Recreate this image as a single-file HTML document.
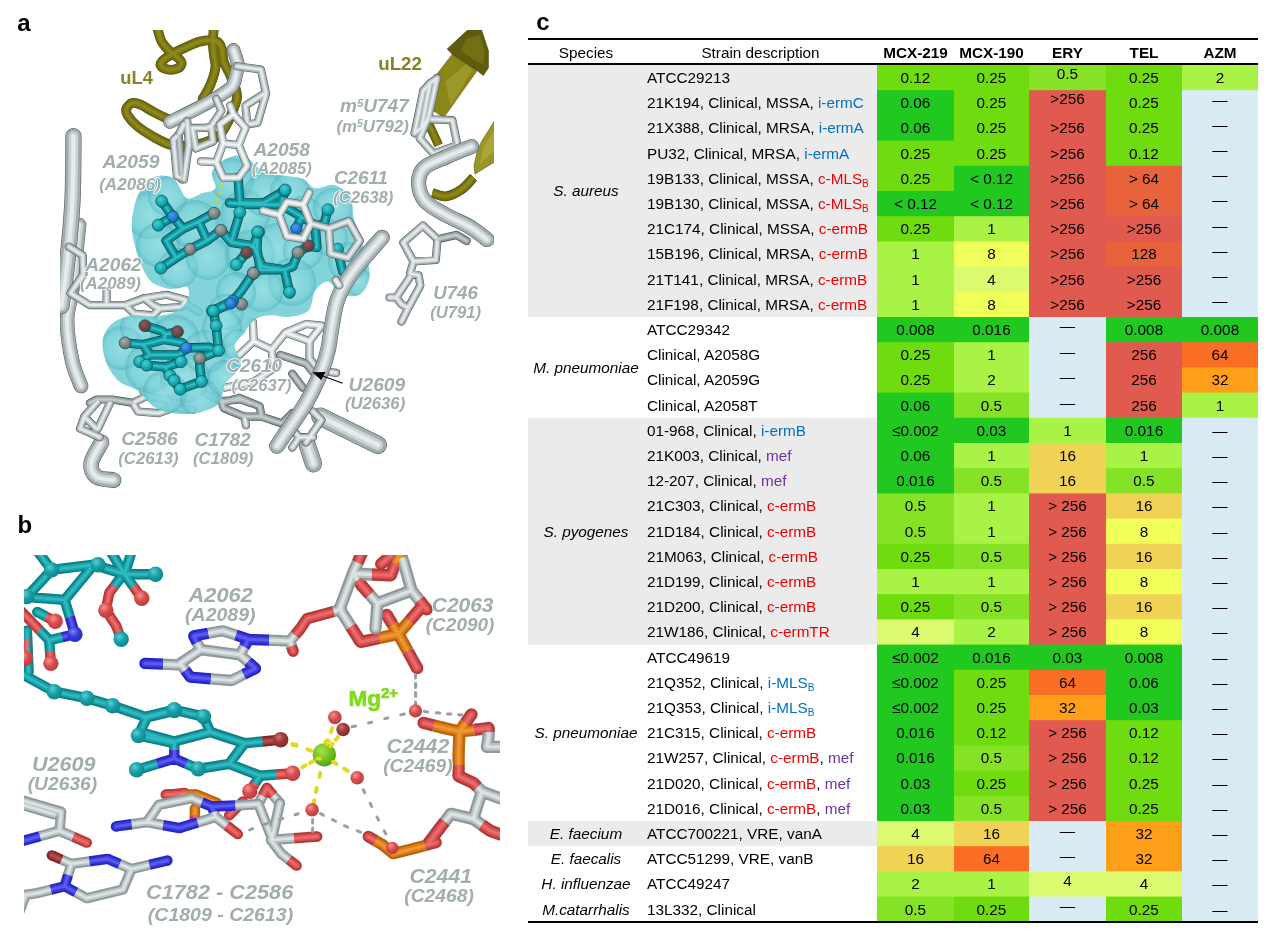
<!DOCTYPE html>
<html lang="en"><head><meta charset="utf-8"><title>Figure</title>
<style>
html,body{margin:0;padding:0;background:#fff;}
body{width:1268px;height:933px;overflow:hidden;position:relative;font-family:"Liberation Sans",Arial,sans-serif;}
.pl{position:absolute;font-weight:bold;font-size:24px;line-height:24px;color:#000;}
svg{position:absolute;left:0;top:0;}
svg text{font-family:"Liberation Sans",Arial,sans-serif;}

.tbl{position:absolute;left:0;top:0;width:1268px;height:933px;font-size:15.3px;color:#000;}
.tbl div{position:absolute;white-space:nowrap;}
.tbl svg{position:absolute;left:0;top:0;}
.gbg{left:528px;width:349px;background:#ebebeb;}
.rule{left:528px;width:730px;height:2px;background:#000;}
.hd{top:39.5px;height:24px;line-height:25px;text-align:center;}
.hb{font-weight:bold;}
.sp{left:528px;width:116px;height:25.2px;line-height:25.2px;text-align:center;font-style:italic;}
.ds{left:647px;height:25.2px;line-height:25.2px;}
.v{height:25.2px;line-height:25.2px;text-align:center;}
.bl{color:#0070c0;}.rd{color:#f00000;}.pu{color:#7030a0;}
.tbl sub{font-size:10px;vertical-align:baseline;position:relative;top:3px;line-height:0;}

</style></head><body>
<svg width="1268" height="933" viewBox="0 0 1268 933">
<defs><clipPath id="ca"><rect x="60" y="30" width="434" height="465"/></clipPath></defs>
<g clip-path="url(#ca)">
<path d="M213.8,28.4 C213.7,30.7 212.9,37.9 212.9,42.2 C212.9,46.5 213.4,50.2 213.8,54.2 C214.2,58.2 215.7,62.2 215.5,66.2 C215.3,70.2 214.2,74.2 212.9,78.2 C211.6,82.2 209.5,86.8 207.8,90.2 C206.1,93.6 203.5,97.4 202.6,98.8 M222.3,50.7 C222.6,52.7 222.8,58.7 224.1,62.7 C225.4,66.7 228.1,70.1 230.1,74.7 C232.1,79.3 235,86.2 236.1,90.2 C237.2,94.2 237.3,95.7 236.9,98.8 C236.5,101.9 234.9,105.3 233.5,109 C232.1,112.7 230.7,116.8 228.4,121.1 C226.1,125.4 223.5,131.3 219.8,134.8 C216.1,138.3 210.7,140.3 206.1,142 C201.5,143.7 198,144.6 192.3,145.1 C186.6,145.6 178.3,146.5 171.7,145.1 C165.1,143.7 158.6,139.7 152.9,136.5 C147.2,133.3 141.6,129.6 137.4,126.2 C133.2,122.8 129.8,118.8 128,115.9 C126.2,113 125.6,111.2 126.3,109 C127,106.8 129.9,103.7 132.3,103 C134.7,102.3 137.2,103.2 140.9,104.8 C144.6,106.4 150,110.1 154.6,112.5 C159.2,114.9 166,118.2 168.3,119.3 M157.2,27.6 C157.9,29.9 159.5,37.4 161.5,41.3 C163.5,45.1 166.3,47.9 169.2,50.7 C172,53.6 176.5,56.2 178.6,58.4 C180.7,60.5 182,61.9 181.7,63.6 C181.4,65.3 179.4,67.8 176.9,68.7 C174.4,69.7 169.3,69.9 166.6,69.3 C163.9,68.7 161.3,66.7 160.6,65.3 C159.9,63.9 160.5,62.9 162.3,61 C164.2,59.1 168.1,56.3 171.7,54.2 C175.3,52.1 179.2,50.3 183.8,48.2 C188.4,46.1 194.6,43.1 199.2,41.8 C203.8,40.4 207.9,39.9 211.2,40.1 C214.5,40.3 217.1,41.2 218.9,43 C220.8,44.8 221.7,49.4 222.3,50.7" fill="none" stroke="#4d4a08" stroke-width="9.8" stroke-linecap="round" stroke-linejoin="round"/>
<path d="M432.3,192.9 C434.6,193.5 441.2,196.9 446.1,196.3 C451,195.7 456.9,192.7 461.5,189.5 C466.1,186.3 471.5,179.4 473.5,177.4" fill="none" stroke="#4d4a08" stroke-width="9.8" stroke-linecap="butt" stroke-linejoin="round"/>
<path d="M427.5,121.1 L438.6,145.1" fill="none" stroke="#4d4a08" stroke-width="9" stroke-linecap="butt" stroke-linejoin="round"/>
<path d="M213.8,28.4 C213.7,30.7 212.9,37.9 212.9,42.2 C212.9,46.5 213.4,50.2 213.8,54.2 C214.2,58.2 215.7,62.2 215.5,66.2 C215.3,70.2 214.2,74.2 212.9,78.2 C211.6,82.2 209.5,86.8 207.8,90.2 C206.1,93.6 203.5,97.4 202.6,98.8 M222.3,50.7 C222.6,52.7 222.8,58.7 224.1,62.7 C225.4,66.7 228.1,70.1 230.1,74.7 C232.1,79.3 235,86.2 236.1,90.2 C237.2,94.2 237.3,95.7 236.9,98.8 C236.5,101.9 234.9,105.3 233.5,109 C232.1,112.7 230.7,116.8 228.4,121.1 C226.1,125.4 223.5,131.3 219.8,134.8 C216.1,138.3 210.7,140.3 206.1,142 C201.5,143.7 198,144.6 192.3,145.1 C186.6,145.6 178.3,146.5 171.7,145.1 C165.1,143.7 158.6,139.7 152.9,136.5 C147.2,133.3 141.6,129.6 137.4,126.2 C133.2,122.8 129.8,118.8 128,115.9 C126.2,113 125.6,111.2 126.3,109 C127,106.8 129.9,103.7 132.3,103 C134.7,102.3 137.2,103.2 140.9,104.8 C144.6,106.4 150,110.1 154.6,112.5 C159.2,114.9 166,118.2 168.3,119.3 M157.2,27.6 C157.9,29.9 159.5,37.4 161.5,41.3 C163.5,45.1 166.3,47.9 169.2,50.7 C172,53.6 176.5,56.2 178.6,58.4 C180.7,60.5 182,61.9 181.7,63.6 C181.4,65.3 179.4,67.8 176.9,68.7 C174.4,69.7 169.3,69.9 166.6,69.3 C163.9,68.7 161.3,66.7 160.6,65.3 C159.9,63.9 160.5,62.9 162.3,61 C164.2,59.1 168.1,56.3 171.7,54.2 C175.3,52.1 179.2,50.3 183.8,48.2 C188.4,46.1 194.6,43.1 199.2,41.8 C203.8,40.4 207.9,39.9 211.2,40.1 C214.5,40.3 217.1,41.2 218.9,43 C220.8,44.8 221.7,49.4 222.3,50.7" fill="none" stroke="#6f6c0f" stroke-width="8.8" stroke-linecap="round" stroke-linejoin="round"/>
<path d="M432.3,192.9 C434.6,193.5 441.2,196.9 446.1,196.3 C451,195.7 456.9,192.7 461.5,189.5 C466.1,186.3 471.5,179.4 473.5,177.4" fill="none" stroke="#6f6c0f" stroke-width="8.8" stroke-linecap="butt" stroke-linejoin="round"/>
<path d="M427.5,121.1 L438.6,145.1" fill="none" stroke="#6f6c0f" stroke-width="8" stroke-linecap="butt" stroke-linejoin="round"/>
<path d="M213.8,28.4 C213.7,30.7 212.9,37.9 212.9,42.2 C212.9,46.5 213.4,50.2 213.8,54.2 C214.2,58.2 215.7,62.2 215.5,66.2 C215.3,70.2 214.2,74.2 212.9,78.2 C211.6,82.2 209.5,86.8 207.8,90.2 C206.1,93.6 203.5,97.4 202.6,98.8 M222.3,50.7 C222.6,52.7 222.8,58.7 224.1,62.7 C225.4,66.7 228.1,70.1 230.1,74.7 C232.1,79.3 235,86.2 236.1,90.2 C237.2,94.2 237.3,95.7 236.9,98.8 C236.5,101.9 234.9,105.3 233.5,109 C232.1,112.7 230.7,116.8 228.4,121.1 C226.1,125.4 223.5,131.3 219.8,134.8 C216.1,138.3 210.7,140.3 206.1,142 C201.5,143.7 198,144.6 192.3,145.1 C186.6,145.6 178.3,146.5 171.7,145.1 C165.1,143.7 158.6,139.7 152.9,136.5 C147.2,133.3 141.6,129.6 137.4,126.2 C133.2,122.8 129.8,118.8 128,115.9 C126.2,113 125.6,111.2 126.3,109 C127,106.8 129.9,103.7 132.3,103 C134.7,102.3 137.2,103.2 140.9,104.8 C144.6,106.4 150,110.1 154.6,112.5 C159.2,114.9 166,118.2 168.3,119.3 M157.2,27.6 C157.9,29.9 159.5,37.4 161.5,41.3 C163.5,45.1 166.3,47.9 169.2,50.7 C172,53.6 176.5,56.2 178.6,58.4 C180.7,60.5 182,61.9 181.7,63.6 C181.4,65.3 179.4,67.8 176.9,68.7 C174.4,69.7 169.3,69.9 166.6,69.3 C163.9,68.7 161.3,66.7 160.6,65.3 C159.9,63.9 160.5,62.9 162.3,61 C164.2,59.1 168.1,56.3 171.7,54.2 C175.3,52.1 179.2,50.3 183.8,48.2 C188.4,46.1 194.6,43.1 199.2,41.8 C203.8,40.4 207.9,39.9 211.2,40.1 C214.5,40.3 217.1,41.2 218.9,43 C220.8,44.8 221.7,49.4 222.3,50.7" fill="none" stroke="#7f7b14" stroke-width="5.46" stroke-linecap="round" stroke-linejoin="round"/>
<path d="M432.3,192.9 C434.6,193.5 441.2,196.9 446.1,196.3 C451,195.7 456.9,192.7 461.5,189.5 C466.1,186.3 471.5,179.4 473.5,177.4" fill="none" stroke="#7f7b14" stroke-width="5.46" stroke-linecap="butt" stroke-linejoin="round"/>
<path d="M427.5,121.1 L438.6,145.1" fill="none" stroke="#7f7b14" stroke-width="4.96" stroke-linecap="butt" stroke-linejoin="round"/>
<path d="M213.8,28.4 C213.7,30.7 212.9,37.9 212.9,42.2 C212.9,46.5 213.4,50.2 213.8,54.2 C214.2,58.2 215.7,62.2 215.5,66.2 C215.3,70.2 214.2,74.2 212.9,78.2 C211.6,82.2 209.5,86.8 207.8,90.2 C206.1,93.6 203.5,97.4 202.6,98.8 M222.3,50.7 C222.6,52.7 222.8,58.7 224.1,62.7 C225.4,66.7 228.1,70.1 230.1,74.7 C232.1,79.3 235,86.2 236.1,90.2 C237.2,94.2 237.3,95.7 236.9,98.8 C236.5,101.9 234.9,105.3 233.5,109 C232.1,112.7 230.7,116.8 228.4,121.1 C226.1,125.4 223.5,131.3 219.8,134.8 C216.1,138.3 210.7,140.3 206.1,142 C201.5,143.7 198,144.6 192.3,145.1 C186.6,145.6 178.3,146.5 171.7,145.1 C165.1,143.7 158.6,139.7 152.9,136.5 C147.2,133.3 141.6,129.6 137.4,126.2 C133.2,122.8 129.8,118.8 128,115.9 C126.2,113 125.6,111.2 126.3,109 C127,106.8 129.9,103.7 132.3,103 C134.7,102.3 137.2,103.2 140.9,104.8 C144.6,106.4 150,110.1 154.6,112.5 C159.2,114.9 166,118.2 168.3,119.3 M157.2,27.6 C157.9,29.9 159.5,37.4 161.5,41.3 C163.5,45.1 166.3,47.9 169.2,50.7 C172,53.6 176.5,56.2 178.6,58.4 C180.7,60.5 182,61.9 181.7,63.6 C181.4,65.3 179.4,67.8 176.9,68.7 C174.4,69.7 169.3,69.9 166.6,69.3 C163.9,68.7 161.3,66.7 160.6,65.3 C159.9,63.9 160.5,62.9 162.3,61 C164.2,59.1 168.1,56.3 171.7,54.2 C175.3,52.1 179.2,50.3 183.8,48.2 C188.4,46.1 194.6,43.1 199.2,41.8 C203.8,40.4 207.9,39.9 211.2,40.1 C214.5,40.3 217.1,41.2 218.9,43 C220.8,44.8 221.7,49.4 222.3,50.7" fill="none" stroke="#8d891d" stroke-width="2.46" stroke-linecap="round" stroke-linejoin="round"/>
<path d="M432.3,192.9 C434.6,193.5 441.2,196.9 446.1,196.3 C451,195.7 456.9,192.7 461.5,189.5 C466.1,186.3 471.5,179.4 473.5,177.4" fill="none" stroke="#8d891d" stroke-width="2.46" stroke-linecap="butt" stroke-linejoin="round"/>
<path d="M427.5,121.1 L438.6,145.1" fill="none" stroke="#8d891d" stroke-width="2.24" stroke-linecap="butt" stroke-linejoin="round"/>
<path d="M452.3,54.2 L477.2,70.5 L443.8,117.6 L433.5,110.8 L435.2,76.5Z" fill="#8a8618" stroke="#5a570c" stroke-width="0.6" stroke-linejoin="round"/>
<path d="M445.5,81.6 L466.1,64.5 L472.9,69.6 L450.6,105.6Z" fill="#9c9828"/>
<path d="M467.8,29.8 L481.5,29.8 L488.4,50.7 L488.4,67.9 L483.2,75.6 L477.2,70.5 L452.3,54.2 L447.2,49Z" fill="#5f5c0d" stroke="#403e06" stroke-width="0.6" stroke-linejoin="round"/>
<path d="M466.1,38.7 L479.8,35.3 L484.9,50.7 L483.2,64.5 L472.9,59.3 L460.9,50.7Z" fill="#726f14"/>
<path d="M481.5,141.6 L494.5,121 L494.5,162 L475,174 L474,166 L477,152Z" fill="#9a9626" stroke="#5a570c" stroke-width="0.6" stroke-linejoin="round"/>
<path d="M484,146 L494.5,130 L494.5,150 L480,164Z" fill="#aaa636"/>
<path d="M79,225 C77.8,235.8 74,274.2 72,290 C70,305.8 67,308.3 67,320 C67,331.7 69.7,349 72,360 C74.3,371 79.5,381.7 81,386" fill="none" stroke="#565d5f" stroke-width="14.7" stroke-linecap="round" stroke-linejoin="round"/>
<path d="M79,225 C77.8,235.8 74,274.2 72,290 C70,305.8 67,308.3 67,320 C67,331.7 69.7,349 72,360 C74.3,371 79.5,381.7 81,386" fill="none" stroke="#a3adaf" stroke-width="13.5" stroke-linecap="round" stroke-linejoin="round"/>
<path d="M79,225 C77.8,235.8 74,274.2 72,290 C70,305.8 67,308.3 67,320 C67,331.7 69.7,349 72,360 C74.3,371 79.5,381.7 81,386" fill="none" stroke="#c9d2d4" stroke-width="8.37" stroke-linecap="round" stroke-linejoin="round"/>
<path d="M79,225 C77.8,235.8 74,274.2 72,290 C70,305.8 67,308.3 67,320 C67,331.7 69.7,349 72,360 C74.3,371 79.5,381.7 81,386" fill="none" stroke="#e6ebec" stroke-width="3.78" stroke-linecap="round" stroke-linejoin="round"/>
<path d="M73.5,136 C73.3,146.7 73.5,179.3 72.5,200 C71.5,220.7 69.3,242.3 67.5,260 C65.7,277.7 62.5,298.3 61.5,306" fill="none" stroke="#565d5f" stroke-width="16.2" stroke-linecap="round" stroke-linejoin="round"/>
<path d="M73.5,136 C73.3,146.7 73.5,179.3 72.5,200 C71.5,220.7 69.3,242.3 67.5,260 C65.7,277.7 62.5,298.3 61.5,306" fill="none" stroke="#a3adaf" stroke-width="15" stroke-linecap="round" stroke-linejoin="round"/>
<path d="M73.5,136 C73.3,146.7 73.5,179.3 72.5,200 C71.5,220.7 69.3,242.3 67.5,260 C65.7,277.7 62.5,298.3 61.5,306" fill="none" stroke="#c9d2d4" stroke-width="9.3" stroke-linecap="round" stroke-linejoin="round"/>
<path d="M73.5,136 C73.3,146.7 73.5,179.3 72.5,200 C71.5,220.7 69.3,242.3 67.5,260 C65.7,277.7 62.5,298.3 61.5,306" fill="none" stroke="#e6ebec" stroke-width="4.2" stroke-linecap="round" stroke-linejoin="round"/>
<path d="M170,121.9 C175.4,119.2 192.6,111.2 202.6,105.6 C212.6,100 224.5,93.7 230.1,88.5 C235.7,83.3 234.8,78.7 236.1,74.7 C237.4,70.7 238.2,68.6 237.8,64.5 C237.4,60.4 234.2,52.3 233.5,49.9" fill="none" stroke="#565d5f" stroke-width="13.7" stroke-linecap="round" stroke-linejoin="round"/>
<path d="M170,121.9 C175.4,119.2 192.6,111.2 202.6,105.6 C212.6,100 224.5,93.7 230.1,88.5 C235.7,83.3 234.8,78.7 236.1,74.7 C237.4,70.7 238.2,68.6 237.8,64.5 C237.4,60.4 234.2,52.3 233.5,49.9" fill="none" stroke="#a3adaf" stroke-width="12.5" stroke-linecap="round" stroke-linejoin="round"/>
<path d="M170,121.9 C175.4,119.2 192.6,111.2 202.6,105.6 C212.6,100 224.5,93.7 230.1,88.5 C235.7,83.3 234.8,78.7 236.1,74.7 C237.4,70.7 238.2,68.6 237.8,64.5 C237.4,60.4 234.2,52.3 233.5,49.9" fill="none" stroke="#c9d2d4" stroke-width="7.75" stroke-linecap="round" stroke-linejoin="round"/>
<path d="M170,121.9 C175.4,119.2 192.6,111.2 202.6,105.6 C212.6,100 224.5,93.7 230.1,88.5 C235.7,83.3 234.8,78.7 236.1,74.7 C237.4,70.7 238.2,68.6 237.8,64.5 C237.4,60.4 234.2,52.3 233.5,49.9" fill="none" stroke="#e6ebec" stroke-width="3.5" stroke-linecap="round" stroke-linejoin="round"/>
<path d="M307.5,445.8 L313.5,463.8" fill="none" stroke="#565d5f" stroke-width="17.2" stroke-linecap="round" stroke-linejoin="round"/>
<path d="M307.5,445.8 L313.5,463.8" fill="none" stroke="#a3adaf" stroke-width="16" stroke-linecap="round" stroke-linejoin="round"/>
<path d="M307.5,445.8 L313.5,463.8" fill="none" stroke="#c9d2d4" stroke-width="9.92" stroke-linecap="round" stroke-linejoin="round"/>
<path d="M307.5,445.8 L313.5,463.8" fill="none" stroke="#e6ebec" stroke-width="4.48" stroke-linecap="round" stroke-linejoin="round"/>
<path d="M320.3,416.6 L377.8,444.9" fill="none" stroke="#565d5f" stroke-width="18.2" stroke-linecap="round" stroke-linejoin="round"/>
<path d="M320.3,416.6 L377.8,444.9" fill="none" stroke="#a3adaf" stroke-width="17" stroke-linecap="round" stroke-linejoin="round"/>
<path d="M320.3,416.6 L377.8,444.9" fill="none" stroke="#c9d2d4" stroke-width="10.54" stroke-linecap="round" stroke-linejoin="round"/>
<path d="M320.3,416.6 L377.8,444.9" fill="none" stroke="#e6ebec" stroke-width="4.76" stroke-linecap="round" stroke-linejoin="round"/>
<path d="M101.5,442.3 C99.8,445.7 92.1,457.2 91.2,462.9 C90.3,468.6 92.6,473.7 96.3,476.6 C100,479.5 110.6,479.5 113.5,480.1" fill="none" stroke="#565d5f" stroke-width="15.7" stroke-linecap="round" stroke-linejoin="round"/>
<path d="M101.5,442.3 C99.8,445.7 92.1,457.2 91.2,462.9 C90.3,468.6 92.6,473.7 96.3,476.6 C100,479.5 110.6,479.5 113.5,480.1" fill="none" stroke="#a3adaf" stroke-width="14.5" stroke-linecap="round" stroke-linejoin="round"/>
<path d="M101.5,442.3 C99.8,445.7 92.1,457.2 91.2,462.9 C90.3,468.6 92.6,473.7 96.3,476.6 C100,479.5 110.6,479.5 113.5,480.1" fill="none" stroke="#c9d2d4" stroke-width="8.99" stroke-linecap="round" stroke-linejoin="round"/>
<path d="M101.5,442.3 C99.8,445.7 92.1,457.2 91.2,462.9 C90.3,468.6 92.6,473.7 96.3,476.6 C100,479.5 110.6,479.5 113.5,480.1" fill="none" stroke="#e6ebec" stroke-width="4.06" stroke-linecap="round" stroke-linejoin="round"/>
<path d="M236.9,66.2 L260.9,69.6 L266.1,93.6 L257.5,122.8 L247.2,124.5 L245.5,105.6 L264.4,93.6 M216.3,98.8 L221.5,110.8 L211.2,126.2 L212.9,141.6 L195.8,148.5 L192.3,127.9 L206.1,127.9 L211.2,126.2 M187.2,121.1 L188.9,145.1 L183.8,179.4 L176.9,175.9 L173.5,139.9 L178.6,134.8 L183.8,124.5 M436.9,78.2 L428.3,117.6 M430,83.3 L421.5,127.9 M423.2,91 L414.6,133.1 M423.2,91 L430,83.3 L436.9,78.2 M414.6,133.1 L421.5,127.9 L428.3,117.6 M431.7,119.3 L452.3,120.2 L457.5,145.1 L433.5,153.6 L419.7,138.2 L428.3,117.6 M68.9,246.7 L82.6,255.3 L83.4,274.2 L70.6,293.1 L89.5,305.1 L106.6,305.1 L125.5,305.1 M106.6,291.3 L106.6,305.1 M125.5,305.1 L144.3,298.2 L166.6,294.8 L185.5,299.9 L182.1,306.8 L159.8,308.5 L152.9,315.4 L134,313.6Z M144.3,298.2 L152.9,305.1 L159.8,308.5 M185.5,303.4 L199.2,311.9 M422.9,225.5 L437.5,239.2 L435.8,259.8 L413.5,261.5 L403.2,242.6Z M413.5,261.5 L410,273.5 M410,273.5 L418.6,275.2 L420.3,285.5 L408.3,307.8 L401.5,321.5 M410,276.9 L396.3,297.5 L389.5,297.5 M396.3,297.5 L401.5,304.4 L408.3,307.8 M132.9,402.9 L146.6,396.1 L167.2,399.5 L172.3,408.1 L158.6,413.2 L138,411.5Z M146.6,396.1 L143.2,390.9 M172.3,407.2 L192.9,409.8 M98,401.2 L84.3,416.6 L80,428.6 L99.7,437.2 M110,402.9 L98,428.6 M84.3,416.6 L96.3,428.6 M309.5,341.2 L309.5,358.3 L319.8,372 M244.3,416.6 L246,425.2 M287.2,423.5 L299.2,437.2 L292.3,447.5 M312.9,411.5 L321.5,420.1 L306.1,442.4 M299.2,437.2 L312.9,437.2 M330.1,372 L336.1,372.9" fill="none" stroke="#565d5f" stroke-width="8.2" stroke-linecap="round" stroke-linejoin="round"/>
<path d="M178.6,134.8 L182,179.4 M437.5,239.2 L456.3,234.9 L466.6,240.9 M90,402.9 L96.9,399.5 L112.3,399.5 L132.9,402.9 M204.9,393.5 L222.1,401.2 L240.9,399.5 L250,402.9 M280.3,354.9 L306.1,363.5 L312.9,372 M292.3,373.8 L302.6,387.5 M222,402.9 L239.2,397.8 L259.7,406.3 L261.5,416.6 L244.3,416.6 L223.7,408.1Z M261.5,416.6 L282,423.5 L292.3,413.2" fill="none" stroke="#4f5557" stroke-width="8.2" stroke-linecap="round" stroke-linejoin="round"/>
<path d="M252.9,322.3 L253.7,341.2 L271.7,349.7 L285.5,332.6 M285.5,332.6 L306.1,324 L321.5,325.7 L309.5,341.2Z M253.7,341.2 L239.2,354.9 M271.7,349.7 L273.5,368.6 L252.9,382.3 L225.4,387.5" fill="none" stroke="#5a6163" stroke-width="8.2" stroke-linecap="round" stroke-linejoin="round"/>
<path d="M236.9,66.2 L260.9,69.6 L266.1,93.6 L257.5,122.8 L247.2,124.5 L245.5,105.6 L264.4,93.6 M216.3,98.8 L221.5,110.8 L211.2,126.2 L212.9,141.6 L195.8,148.5 L192.3,127.9 L206.1,127.9 L211.2,126.2 M187.2,121.1 L188.9,145.1 L183.8,179.4 L176.9,175.9 L173.5,139.9 L178.6,134.8 L183.8,124.5 M436.9,78.2 L428.3,117.6 M430,83.3 L421.5,127.9 M423.2,91 L414.6,133.1 M423.2,91 L430,83.3 L436.9,78.2 M414.6,133.1 L421.5,127.9 L428.3,117.6 M431.7,119.3 L452.3,120.2 L457.5,145.1 L433.5,153.6 L419.7,138.2 L428.3,117.6 M68.9,246.7 L82.6,255.3 L83.4,274.2 L70.6,293.1 L89.5,305.1 L106.6,305.1 L125.5,305.1 M106.6,291.3 L106.6,305.1 M125.5,305.1 L144.3,298.2 L166.6,294.8 L185.5,299.9 L182.1,306.8 L159.8,308.5 L152.9,315.4 L134,313.6Z M144.3,298.2 L152.9,305.1 L159.8,308.5 M185.5,303.4 L199.2,311.9 M422.9,225.5 L437.5,239.2 L435.8,259.8 L413.5,261.5 L403.2,242.6Z M413.5,261.5 L410,273.5 M410,273.5 L418.6,275.2 L420.3,285.5 L408.3,307.8 L401.5,321.5 M410,276.9 L396.3,297.5 L389.5,297.5 M396.3,297.5 L401.5,304.4 L408.3,307.8 M132.9,402.9 L146.6,396.1 L167.2,399.5 L172.3,408.1 L158.6,413.2 L138,411.5Z M146.6,396.1 L143.2,390.9 M172.3,407.2 L192.9,409.8 M98,401.2 L84.3,416.6 L80,428.6 L99.7,437.2 M110,402.9 L98,428.6 M84.3,416.6 L96.3,428.6 M309.5,341.2 L309.5,358.3 L319.8,372 M244.3,416.6 L246,425.2 M287.2,423.5 L299.2,437.2 L292.3,447.5 M312.9,411.5 L321.5,420.1 L306.1,442.4 M299.2,437.2 L312.9,437.2 M330.1,372 L336.1,372.9" fill="none" stroke="#a3adaf" stroke-width="7" stroke-linecap="round" stroke-linejoin="round"/>
<path d="M178.6,134.8 L182,179.4 M437.5,239.2 L456.3,234.9 L466.6,240.9 M90,402.9 L96.9,399.5 L112.3,399.5 L132.9,402.9 M204.9,393.5 L222.1,401.2 L240.9,399.5 L250,402.9 M280.3,354.9 L306.1,363.5 L312.9,372 M292.3,373.8 L302.6,387.5 M222,402.9 L239.2,397.8 L259.7,406.3 L261.5,416.6 L244.3,416.6 L223.7,408.1Z M261.5,416.6 L282,423.5 L292.3,413.2" fill="none" stroke="#8b9496" stroke-width="7" stroke-linecap="round" stroke-linejoin="round"/>
<path d="M252.9,322.3 L253.7,341.2 L271.7,349.7 L285.5,332.6 M285.5,332.6 L306.1,324 L321.5,325.7 L309.5,341.2Z M253.7,341.2 L239.2,354.9 M271.7,349.7 L273.5,368.6 L252.9,382.3 L225.4,387.5" fill="none" stroke="#b2bcbe" stroke-width="7" stroke-linecap="round" stroke-linejoin="round"/>
<path d="M236.9,66.2 L260.9,69.6 L266.1,93.6 L257.5,122.8 L247.2,124.5 L245.5,105.6 L264.4,93.6 M216.3,98.8 L221.5,110.8 L211.2,126.2 L212.9,141.6 L195.8,148.5 L192.3,127.9 L206.1,127.9 L211.2,126.2 M187.2,121.1 L188.9,145.1 L183.8,179.4 L176.9,175.9 L173.5,139.9 L178.6,134.8 L183.8,124.5 M436.9,78.2 L428.3,117.6 M430,83.3 L421.5,127.9 M423.2,91 L414.6,133.1 M423.2,91 L430,83.3 L436.9,78.2 M414.6,133.1 L421.5,127.9 L428.3,117.6 M431.7,119.3 L452.3,120.2 L457.5,145.1 L433.5,153.6 L419.7,138.2 L428.3,117.6 M68.9,246.7 L82.6,255.3 L83.4,274.2 L70.6,293.1 L89.5,305.1 L106.6,305.1 L125.5,305.1 M106.6,291.3 L106.6,305.1 M125.5,305.1 L144.3,298.2 L166.6,294.8 L185.5,299.9 L182.1,306.8 L159.8,308.5 L152.9,315.4 L134,313.6Z M144.3,298.2 L152.9,305.1 L159.8,308.5 M185.5,303.4 L199.2,311.9 M422.9,225.5 L437.5,239.2 L435.8,259.8 L413.5,261.5 L403.2,242.6Z M413.5,261.5 L410,273.5 M410,273.5 L418.6,275.2 L420.3,285.5 L408.3,307.8 L401.5,321.5 M410,276.9 L396.3,297.5 L389.5,297.5 M396.3,297.5 L401.5,304.4 L408.3,307.8 M132.9,402.9 L146.6,396.1 L167.2,399.5 L172.3,408.1 L158.6,413.2 L138,411.5Z M146.6,396.1 L143.2,390.9 M172.3,407.2 L192.9,409.8 M98,401.2 L84.3,416.6 L80,428.6 L99.7,437.2 M110,402.9 L98,428.6 M84.3,416.6 L96.3,428.6 M309.5,341.2 L309.5,358.3 L319.8,372 M244.3,416.6 L246,425.2 M287.2,423.5 L299.2,437.2 L292.3,447.5 M312.9,411.5 L321.5,420.1 L306.1,442.4 M299.2,437.2 L312.9,437.2 M330.1,372 L336.1,372.9" fill="none" stroke="#c9d2d4" stroke-width="4.34" stroke-linecap="round" stroke-linejoin="round"/>
<path d="M178.6,134.8 L182,179.4 M437.5,239.2 L456.3,234.9 L466.6,240.9 M90,402.9 L96.9,399.5 L112.3,399.5 L132.9,402.9 M204.9,393.5 L222.1,401.2 L240.9,399.5 L250,402.9 M280.3,354.9 L306.1,363.5 L312.9,372 M292.3,373.8 L302.6,387.5 M222,402.9 L239.2,397.8 L259.7,406.3 L261.5,416.6 L244.3,416.6 L223.7,408.1Z M261.5,416.6 L282,423.5 L292.3,413.2" fill="none" stroke="#aab3b5" stroke-width="4.34" stroke-linecap="round" stroke-linejoin="round"/>
<path d="M252.9,322.3 L253.7,341.2 L271.7,349.7 L285.5,332.6 M285.5,332.6 L306.1,324 L321.5,325.7 L309.5,341.2Z M253.7,341.2 L239.2,354.9 M271.7,349.7 L273.5,368.6 L252.9,382.3 L225.4,387.5" fill="none" stroke="#d9e0e1" stroke-width="4.34" stroke-linecap="round" stroke-linejoin="round"/>
<path d="M236.9,66.2 L260.9,69.6 L266.1,93.6 L257.5,122.8 L247.2,124.5 L245.5,105.6 L264.4,93.6 M216.3,98.8 L221.5,110.8 L211.2,126.2 L212.9,141.6 L195.8,148.5 L192.3,127.9 L206.1,127.9 L211.2,126.2 M187.2,121.1 L188.9,145.1 L183.8,179.4 L176.9,175.9 L173.5,139.9 L178.6,134.8 L183.8,124.5 M436.9,78.2 L428.3,117.6 M430,83.3 L421.5,127.9 M423.2,91 L414.6,133.1 M423.2,91 L430,83.3 L436.9,78.2 M414.6,133.1 L421.5,127.9 L428.3,117.6 M431.7,119.3 L452.3,120.2 L457.5,145.1 L433.5,153.6 L419.7,138.2 L428.3,117.6 M68.9,246.7 L82.6,255.3 L83.4,274.2 L70.6,293.1 L89.5,305.1 L106.6,305.1 L125.5,305.1 M106.6,291.3 L106.6,305.1 M125.5,305.1 L144.3,298.2 L166.6,294.8 L185.5,299.9 L182.1,306.8 L159.8,308.5 L152.9,315.4 L134,313.6Z M144.3,298.2 L152.9,305.1 L159.8,308.5 M185.5,303.4 L199.2,311.9 M422.9,225.5 L437.5,239.2 L435.8,259.8 L413.5,261.5 L403.2,242.6Z M413.5,261.5 L410,273.5 M410,273.5 L418.6,275.2 L420.3,285.5 L408.3,307.8 L401.5,321.5 M410,276.9 L396.3,297.5 L389.5,297.5 M396.3,297.5 L401.5,304.4 L408.3,307.8 M132.9,402.9 L146.6,396.1 L167.2,399.5 L172.3,408.1 L158.6,413.2 L138,411.5Z M146.6,396.1 L143.2,390.9 M172.3,407.2 L192.9,409.8 M98,401.2 L84.3,416.6 L80,428.6 L99.7,437.2 M110,402.9 L98,428.6 M84.3,416.6 L96.3,428.6 M309.5,341.2 L309.5,358.3 L319.8,372 M244.3,416.6 L246,425.2 M287.2,423.5 L299.2,437.2 L292.3,447.5 M312.9,411.5 L321.5,420.1 L306.1,442.4 M299.2,437.2 L312.9,437.2 M330.1,372 L336.1,372.9" fill="none" stroke="#e6ebec" stroke-width="1.96" stroke-linecap="round" stroke-linejoin="round"/>
<path d="M178.6,134.8 L182,179.4 M437.5,239.2 L456.3,234.9 L466.6,240.9 M90,402.9 L96.9,399.5 L112.3,399.5 L132.9,402.9 M204.9,393.5 L222.1,401.2 L240.9,399.5 L250,402.9 M280.3,354.9 L306.1,363.5 L312.9,372 M292.3,373.8 L302.6,387.5 M222,402.9 L239.2,397.8 L259.7,406.3 L261.5,416.6 L244.3,416.6 L223.7,408.1Z M261.5,416.6 L282,423.5 L292.3,413.2" fill="none" stroke="#c3cbcc" stroke-width="1.96" stroke-linecap="round" stroke-linejoin="round"/>
<path d="M252.9,322.3 L253.7,341.2 L271.7,349.7 L285.5,332.6 M285.5,332.6 L306.1,324 L321.5,325.7 L309.5,341.2Z M253.7,341.2 L239.2,354.9 M271.7,349.7 L273.5,368.6 L252.9,382.3 L225.4,387.5" fill="none" stroke="#f2f5f5" stroke-width="1.96" stroke-linecap="round" stroke-linejoin="round"/>
<defs><clipPath id="cb"><path d="M138.2,194.7 C141.9,186.9 148.4,179.7 154.3,177 C160.2,174.3 168.2,175.1 173.6,178.6 C179,182.1 181.7,195.5 186.5,197.9 C191.3,200.3 197.7,194.7 202.5,193.1 C207.3,191.5 213.8,191.7 215.4,188.2 C217,184.7 210.6,177 212.2,172.2 C213.8,167.4 219.7,162 225,159.3 C230.3,156.6 237.9,153.9 244.3,156.1 C250.7,158.2 257.2,169 263.6,172.2 C270,175.4 276.5,174.3 282.9,175.4 C289.3,176.5 296.8,176.5 302.2,178.6 C307.6,180.7 309.7,187.1 315.1,188.2 C320.5,189.3 328.5,183.4 334.4,185 C340.3,186.6 347.3,192.5 350.5,197.9 C353.7,203.3 351.6,209.2 353.7,217.2 C355.8,225.2 360.6,236.5 363.3,246.1 C366,255.7 370.2,267 369.7,275 C369.2,283 364.9,291.1 360.1,294.3 C355.3,297.5 346.2,296.4 340.8,294.3 C335.4,292.2 332.2,282 327.9,281.5 C323.6,281 318.3,286.3 315.1,291.1 C311.9,295.9 312.9,306.1 308.6,310.4 C304.3,314.7 295.3,316 289.4,316.8 C283.5,317.6 278.1,315.2 273.3,315.2 C268.5,315.2 264.1,315.4 260.4,316.8 C256.6,318.2 253.5,320.6 250.8,323.3 C248.1,326 247,329.1 244.3,332.9 C241.6,336.6 235.2,340.4 234.7,345.8 C234.2,351.2 242.7,358.7 241.1,365.1 C239.5,371.5 228.8,378 225,384.4 C221.2,390.8 223.4,398.9 218.6,403.7 C213.8,408.5 203.6,411.7 196.1,413.3 C188.6,414.9 180.6,414.4 173.6,413.3 C166.6,412.2 160.2,410.6 154.3,406.9 C148.4,403.1 144.1,395.1 138.2,390.8 C132.3,386.5 124.2,386 118.9,381.2 C113.6,376.4 108.8,368.9 106.1,361.9 C103.4,354.9 101.8,345.8 102.9,339.4 C104,333 107.7,327.3 112.5,323.3 C117.3,319.3 125.9,316.3 131.8,315.2 C137.7,314.1 141.5,317.1 147.9,316.8 C154.3,316.5 164.2,315.6 170.4,313.6 C176.6,311.6 181.8,307.8 184.9,304.6 C188,301.4 188.7,297.3 189,294.3 C189.3,291.3 188.5,287.6 186.5,286.6 C184.5,285.7 180,288.3 176.8,288.6 C173.6,288.9 171.5,289.8 167.2,288.6 C162.9,287.4 155.4,285.4 151.1,281.5 C146.8,277.6 144.1,271.3 141.4,265.4 C138.7,259.5 136.6,253.1 135,246.1 C133.4,239.1 131.3,232.2 131.8,223.6 C132.3,215 134.4,202.5 138.2,194.7Z"/></clipPath><radialGradient id="sph" cx="0.5" cy="0.5" r="0.5"><stop offset="0" stop-color="#a8e8eb" stop-opacity="0.6"/><stop offset="0.7" stop-color="#86d9de" stop-opacity="0.25"/><stop offset="1" stop-color="#3fa9b2" stop-opacity="0.45"/></radialGradient></defs>
<path d="M138.2,194.7 C141.9,186.9 148.4,179.7 154.3,177 C160.2,174.3 168.2,175.1 173.6,178.6 C179,182.1 181.7,195.5 186.5,197.9 C191.3,200.3 197.7,194.7 202.5,193.1 C207.3,191.5 213.8,191.7 215.4,188.2 C217,184.7 210.6,177 212.2,172.2 C213.8,167.4 219.7,162 225,159.3 C230.3,156.6 237.9,153.9 244.3,156.1 C250.7,158.2 257.2,169 263.6,172.2 C270,175.4 276.5,174.3 282.9,175.4 C289.3,176.5 296.8,176.5 302.2,178.6 C307.6,180.7 309.7,187.1 315.1,188.2 C320.5,189.3 328.5,183.4 334.4,185 C340.3,186.6 347.3,192.5 350.5,197.9 C353.7,203.3 351.6,209.2 353.7,217.2 C355.8,225.2 360.6,236.5 363.3,246.1 C366,255.7 370.2,267 369.7,275 C369.2,283 364.9,291.1 360.1,294.3 C355.3,297.5 346.2,296.4 340.8,294.3 C335.4,292.2 332.2,282 327.9,281.5 C323.6,281 318.3,286.3 315.1,291.1 C311.9,295.9 312.9,306.1 308.6,310.4 C304.3,314.7 295.3,316 289.4,316.8 C283.5,317.6 278.1,315.2 273.3,315.2 C268.5,315.2 264.1,315.4 260.4,316.8 C256.6,318.2 253.5,320.6 250.8,323.3 C248.1,326 247,329.1 244.3,332.9 C241.6,336.6 235.2,340.4 234.7,345.8 C234.2,351.2 242.7,358.7 241.1,365.1 C239.5,371.5 228.8,378 225,384.4 C221.2,390.8 223.4,398.9 218.6,403.7 C213.8,408.5 203.6,411.7 196.1,413.3 C188.6,414.9 180.6,414.4 173.6,413.3 C166.6,412.2 160.2,410.6 154.3,406.9 C148.4,403.1 144.1,395.1 138.2,390.8 C132.3,386.5 124.2,386 118.9,381.2 C113.6,376.4 108.8,368.9 106.1,361.9 C103.4,354.9 101.8,345.8 102.9,339.4 C104,333 107.7,327.3 112.5,323.3 C117.3,319.3 125.9,316.3 131.8,315.2 C137.7,314.1 141.5,317.1 147.9,316.8 C154.3,316.5 164.2,315.6 170.4,313.6 C176.6,311.6 181.8,307.8 184.9,304.6 C188,301.4 188.7,297.3 189,294.3 C189.3,291.3 188.5,287.6 186.5,286.6 C184.5,285.7 180,288.3 176.8,288.6 C173.6,288.9 171.5,289.8 167.2,288.6 C162.9,287.4 155.4,285.4 151.1,281.5 C146.8,277.6 144.1,271.3 141.4,265.4 C138.7,259.5 136.6,253.1 135,246.1 C133.4,239.1 131.3,232.2 131.8,223.6 C132.3,215 134.4,202.5 138.2,194.7Z" fill="#6fcdd4" opacity="0.87"/>
<g clip-path="url(#cb)">
<circle cx="150" cy="215" r="24" fill="url(#sph)"/><circle cx="168" cy="196" r="20" fill="url(#sph)"/><circle cx="158" cy="245" r="22" fill="url(#sph)"/><circle cx="178" cy="268" r="20" fill="url(#sph)"/><circle cx="195" cy="225" r="25" fill="url(#sph)"/><circle cx="208" cy="258" r="22" fill="url(#sph)"/><circle cx="232" cy="180" r="22" fill="url(#sph)"/><circle cx="245" cy="215" r="25" fill="url(#sph)"/><circle cx="265" cy="195" r="22" fill="url(#sph)"/><circle cx="290" cy="192" r="20" fill="url(#sph)"/><circle cx="250" cy="255" r="25" fill="url(#sph)"/><circle cx="278" cy="248" r="25" fill="url(#sph)"/><circle cx="303" cy="218" r="22" fill="url(#sph)"/><circle cx="303" cy="250" r="20" fill="url(#sph)"/><circle cx="333" cy="208" r="20" fill="url(#sph)"/><circle cx="330" cy="238" r="18" fill="url(#sph)"/><circle cx="348" cy="262" r="20" fill="url(#sph)"/><circle cx="358" cy="282" r="14" fill="url(#sph)"/><circle cx="292" cy="282" r="24" fill="url(#sph)"/><circle cx="262" cy="290" r="22" fill="url(#sph)"/><circle cx="236" cy="292" r="20" fill="url(#sph)"/><circle cx="226" cy="312" r="18" fill="url(#sph)"/><circle cx="122" cy="348" r="22" fill="url(#sph)"/><circle cx="140" cy="328" r="20" fill="url(#sph)"/><circle cx="150" cy="368" r="25" fill="url(#sph)"/><circle cx="175" cy="340" r="25" fill="url(#sph)"/><circle cx="185" cy="378" r="25" fill="url(#sph)"/><circle cx="205" cy="352" r="22" fill="url(#sph)"/><circle cx="222" cy="328" r="20" fill="url(#sph)"/><circle cx="165" cy="392" r="22" fill="url(#sph)"/><circle cx="200" cy="398" r="20" fill="url(#sph)"/><circle cx="225" cy="378" r="18" fill="url(#sph)"/><circle cx="238" cy="345" r="16" fill="url(#sph)"/>
</g>
<path d="M198.6,221.7 L183.2,228.6 L166,240.6 L176.3,257.8 L190,249.2 L207.2,240.6Z M183.2,228.6 L172.9,216.6 M172.9,216.6 L161.7,201.2 M172.9,216.6 L158.3,225.2 M198.6,221.7 L214,213.2 M176.3,257.8 L160.9,268.1 M207.2,240.6 L220.9,230.3 L231.2,242.3 M238.1,177.2 L239.8,202.9 L263.8,202.9 L284.4,190.9 M239.8,202.9 L239.8,213.2 L231.2,242.3 M231.2,242.3 L253.5,245.8 L258.6,232 M253.5,245.8 L262.1,266.3 L284.4,269.8 L290,293.8 M253.5,245.8 L246.6,252.6 L236.3,264.6 M262.1,266.3 L253.5,273.2 L241.5,290.4 L232.9,300.7 L212.3,310.9 M285.2,190 L280.9,204.6 M229.4,202.9 L250,204.6 L280.9,204.6 L301.5,216.6 L315.2,225.2 M328,209.7 L323.8,225.2 L315.2,225.2 L316.9,247.5 L308.3,245.8 L298,252.6 L292.9,266.3 L284.3,269.8 L260.3,269.8 L256.9,249.2 L257.7,232 M284.3,269.8 L289.5,292.1 M260.3,269.8 L253.4,273.2 M337.5,249.2 L342.6,271.5 M301.5,216.6 L296.3,228.6 M144.9,325.7 L162,330.9 L165.5,334.3 L177.5,331.7 M125.2,342.9 L143.2,344.6 M143.2,344.6 L163.8,339.5 L182.6,342.9 L186.1,348 L179.2,354.9 L150,354.9Z M163.8,339.5 L165.5,334.3 M150,354.9 L139.7,361.7 L146.6,365.2 L165.5,366.9 L180.9,361.7 L179.2,354.9 M165.5,366.9 L169.8,375.5 L174,380.6 L180.1,389.2 L201.5,381.5 L199.8,366.9 L199.8,358.3 L218.6,350.6 L216.1,325.7 L213.5,311.1 L230.7,303.4 M186.1,348 L208.4,347.2 L218.6,350.6" fill="none" stroke="#064a4f" stroke-width="9.4" stroke-linecap="round" stroke-linejoin="round"/>
<path d="M198.6,221.7 L183.2,228.6 L166,240.6 L176.3,257.8 L190,249.2 L207.2,240.6Z M183.2,228.6 L172.9,216.6 M172.9,216.6 L161.7,201.2 M172.9,216.6 L158.3,225.2 M198.6,221.7 L214,213.2 M176.3,257.8 L160.9,268.1 M207.2,240.6 L220.9,230.3 L231.2,242.3 M238.1,177.2 L239.8,202.9 L263.8,202.9 L284.4,190.9 M239.8,202.9 L239.8,213.2 L231.2,242.3 M231.2,242.3 L253.5,245.8 L258.6,232 M253.5,245.8 L262.1,266.3 L284.4,269.8 L290,293.8 M253.5,245.8 L246.6,252.6 L236.3,264.6 M262.1,266.3 L253.5,273.2 L241.5,290.4 L232.9,300.7 L212.3,310.9 M285.2,190 L280.9,204.6 M229.4,202.9 L250,204.6 L280.9,204.6 L301.5,216.6 L315.2,225.2 M328,209.7 L323.8,225.2 L315.2,225.2 L316.9,247.5 L308.3,245.8 L298,252.6 L292.9,266.3 L284.3,269.8 L260.3,269.8 L256.9,249.2 L257.7,232 M284.3,269.8 L289.5,292.1 M260.3,269.8 L253.4,273.2 M337.5,249.2 L342.6,271.5 M301.5,216.6 L296.3,228.6 M144.9,325.7 L162,330.9 L165.5,334.3 L177.5,331.7 M125.2,342.9 L143.2,344.6 M143.2,344.6 L163.8,339.5 L182.6,342.9 L186.1,348 L179.2,354.9 L150,354.9Z M163.8,339.5 L165.5,334.3 M150,354.9 L139.7,361.7 L146.6,365.2 L165.5,366.9 L180.9,361.7 L179.2,354.9 M165.5,366.9 L169.8,375.5 L174,380.6 L180.1,389.2 L201.5,381.5 L199.8,366.9 L199.8,358.3 L218.6,350.6 L216.1,325.7 L213.5,311.1 L230.7,303.4 M186.1,348 L208.4,347.2 L218.6,350.6" fill="none" stroke="#0b8890" stroke-width="8" stroke-linecap="round" stroke-linejoin="round"/>
<path d="M198.6,221.7 L183.2,228.6 L166,240.6 L176.3,257.8 L190,249.2 L207.2,240.6Z M183.2,228.6 L172.9,216.6 M172.9,216.6 L161.7,201.2 M172.9,216.6 L158.3,225.2 M198.6,221.7 L214,213.2 M176.3,257.8 L160.9,268.1 M207.2,240.6 L220.9,230.3 L231.2,242.3 M238.1,177.2 L239.8,202.9 L263.8,202.9 L284.4,190.9 M239.8,202.9 L239.8,213.2 L231.2,242.3 M231.2,242.3 L253.5,245.8 L258.6,232 M253.5,245.8 L262.1,266.3 L284.4,269.8 L290,293.8 M253.5,245.8 L246.6,252.6 L236.3,264.6 M262.1,266.3 L253.5,273.2 L241.5,290.4 L232.9,300.7 L212.3,310.9 M285.2,190 L280.9,204.6 M229.4,202.9 L250,204.6 L280.9,204.6 L301.5,216.6 L315.2,225.2 M328,209.7 L323.8,225.2 L315.2,225.2 L316.9,247.5 L308.3,245.8 L298,252.6 L292.9,266.3 L284.3,269.8 L260.3,269.8 L256.9,249.2 L257.7,232 M284.3,269.8 L289.5,292.1 M260.3,269.8 L253.4,273.2 M337.5,249.2 L342.6,271.5 M301.5,216.6 L296.3,228.6 M144.9,325.7 L162,330.9 L165.5,334.3 L177.5,331.7 M125.2,342.9 L143.2,344.6 M143.2,344.6 L163.8,339.5 L182.6,342.9 L186.1,348 L179.2,354.9 L150,354.9Z M163.8,339.5 L165.5,334.3 M150,354.9 L139.7,361.7 L146.6,365.2 L165.5,366.9 L180.9,361.7 L179.2,354.9 M165.5,366.9 L169.8,375.5 L174,380.6 L180.1,389.2 L201.5,381.5 L199.8,366.9 L199.8,358.3 L218.6,350.6 L216.1,325.7 L213.5,311.1 L230.7,303.4 M186.1,348 L208.4,347.2 L218.6,350.6" fill="none" stroke="#129ea6" stroke-width="4.96" stroke-linecap="round" stroke-linejoin="round"/>
<path d="M198.6,221.7 L183.2,228.6 L166,240.6 L176.3,257.8 L190,249.2 L207.2,240.6Z M183.2,228.6 L172.9,216.6 M172.9,216.6 L161.7,201.2 M172.9,216.6 L158.3,225.2 M198.6,221.7 L214,213.2 M176.3,257.8 L160.9,268.1 M207.2,240.6 L220.9,230.3 L231.2,242.3 M238.1,177.2 L239.8,202.9 L263.8,202.9 L284.4,190.9 M239.8,202.9 L239.8,213.2 L231.2,242.3 M231.2,242.3 L253.5,245.8 L258.6,232 M253.5,245.8 L262.1,266.3 L284.4,269.8 L290,293.8 M253.5,245.8 L246.6,252.6 L236.3,264.6 M262.1,266.3 L253.5,273.2 L241.5,290.4 L232.9,300.7 L212.3,310.9 M285.2,190 L280.9,204.6 M229.4,202.9 L250,204.6 L280.9,204.6 L301.5,216.6 L315.2,225.2 M328,209.7 L323.8,225.2 L315.2,225.2 L316.9,247.5 L308.3,245.8 L298,252.6 L292.9,266.3 L284.3,269.8 L260.3,269.8 L256.9,249.2 L257.7,232 M284.3,269.8 L289.5,292.1 M260.3,269.8 L253.4,273.2 M337.5,249.2 L342.6,271.5 M301.5,216.6 L296.3,228.6 M144.9,325.7 L162,330.9 L165.5,334.3 L177.5,331.7 M125.2,342.9 L143.2,344.6 M143.2,344.6 L163.8,339.5 L182.6,342.9 L186.1,348 L179.2,354.9 L150,354.9Z M163.8,339.5 L165.5,334.3 M150,354.9 L139.7,361.7 L146.6,365.2 L165.5,366.9 L180.9,361.7 L179.2,354.9 M165.5,366.9 L169.8,375.5 L174,380.6 L180.1,389.2 L201.5,381.5 L199.8,366.9 L199.8,358.3 L218.6,350.6 L216.1,325.7 L213.5,311.1 L230.7,303.4 M186.1,348 L208.4,347.2 L218.6,350.6" fill="none" stroke="#33bcc3" stroke-width="2.24" stroke-linecap="round" stroke-linejoin="round"/>
<defs><radialGradient id="bt" cx="0.4" cy="0.35" r="0.7"><stop offset="0" stop-color="#45d0d6"/><stop offset="0.6" stop-color="#13a7ae"/><stop offset="1" stop-color="#0a7f86"/></radialGradient><radialGradient id="bg" cx="0.4" cy="0.35" r="0.7"><stop offset="0" stop-color="#a8acad"/><stop offset="0.6" stop-color="#7c8182"/><stop offset="1" stop-color="#5c6162"/></radialGradient><radialGradient id="bb" cx="0.4" cy="0.35" r="0.7"><stop offset="0" stop-color="#4a9be6"/><stop offset="0.6" stop-color="#1f78d0"/><stop offset="1" stop-color="#155ba6"/></radialGradient><radialGradient id="br" cx="0.4" cy="0.35" r="0.7"><stop offset="0" stop-color="#8a5a5a"/><stop offset="0.6" stop-color="#6b4646"/><stop offset="1" stop-color="#4f3434"/></radialGradient></defs>
<circle cx="161.7" cy="201.2" r="6" fill="url(#bt)" stroke="#075459" stroke-width="0.7"/>
<circle cx="158.3" cy="225.2" r="6" fill="url(#bt)" stroke="#075459" stroke-width="0.7"/>
<circle cx="160.9" cy="268.1" r="6" fill="url(#bt)" stroke="#075459" stroke-width="0.7"/>
<circle cx="284.4" cy="190.9" r="6" fill="url(#bt)" stroke="#075459" stroke-width="0.7"/>
<circle cx="239.8" cy="212.3" r="6" fill="url(#bt)" stroke="#075459" stroke-width="0.7"/>
<circle cx="258.6" cy="232.0" r="6" fill="url(#bt)" stroke="#075459" stroke-width="0.7"/>
<circle cx="236.3" cy="264.6" r="6" fill="url(#bt)" stroke="#075459" stroke-width="0.7"/>
<circle cx="212.3" cy="310.9" r="6" fill="url(#bt)" stroke="#075459" stroke-width="0.7"/>
<circle cx="285.2" cy="190.0" r="6" fill="url(#bt)" stroke="#075459" stroke-width="0.7"/>
<circle cx="328.0" cy="209.7" r="6" fill="url(#bt)" stroke="#075459" stroke-width="0.7"/>
<circle cx="257.7" cy="232.0" r="6" fill="url(#bt)" stroke="#075459" stroke-width="0.7"/>
<circle cx="289.5" cy="292.1" r="6" fill="url(#bt)" stroke="#075459" stroke-width="0.7"/>
<circle cx="337.5" cy="249.2" r="6" fill="url(#bt)" stroke="#075459" stroke-width="0.7"/>
<circle cx="139.7" cy="361.7" r="6" fill="url(#bt)" stroke="#075459" stroke-width="0.7"/>
<circle cx="146.6" cy="365.2" r="6" fill="url(#bt)" stroke="#075459" stroke-width="0.7"/>
<circle cx="180.9" cy="361.7" r="6" fill="url(#bt)" stroke="#075459" stroke-width="0.7"/>
<circle cx="169.8" cy="375.5" r="6" fill="url(#bt)" stroke="#075459" stroke-width="0.7"/>
<circle cx="174.0" cy="380.6" r="6" fill="url(#bt)" stroke="#075459" stroke-width="0.7"/>
<circle cx="180.1" cy="389.2" r="6" fill="url(#bt)" stroke="#075459" stroke-width="0.7"/>
<circle cx="201.5" cy="381.5" r="6" fill="url(#bt)" stroke="#075459" stroke-width="0.7"/>
<circle cx="218.6" cy="350.6" r="6" fill="url(#bt)" stroke="#075459" stroke-width="0.7"/>
<circle cx="216.1" cy="325.7" r="6" fill="url(#bt)" stroke="#075459" stroke-width="0.7"/>
<circle cx="213.5" cy="311.1" r="6" fill="url(#bt)" stroke="#075459" stroke-width="0.7"/>
<circle cx="214.0" cy="213.2" r="6" fill="url(#bg)" stroke="#075459" stroke-width="0.7"/>
<circle cx="220.9" cy="230.3" r="6" fill="url(#bg)" stroke="#075459" stroke-width="0.7"/>
<circle cx="253.5" cy="273.2" r="6" fill="url(#bg)" stroke="#075459" stroke-width="0.7"/>
<circle cx="190.0" cy="249.2" r="6" fill="url(#bg)" stroke="#075459" stroke-width="0.7"/>
<circle cx="253.4" cy="273.2" r="6" fill="url(#bg)" stroke="#075459" stroke-width="0.7"/>
<circle cx="298.0" cy="252.6" r="6" fill="url(#bg)" stroke="#075459" stroke-width="0.7"/>
<circle cx="125.2" cy="342.9" r="6" fill="url(#bg)" stroke="#075459" stroke-width="0.7"/>
<circle cx="199.8" cy="358.3" r="6" fill="url(#bg)" stroke="#075459" stroke-width="0.7"/>
<circle cx="241.5" cy="304.1" r="6" fill="url(#bg)" stroke="#075459" stroke-width="0.7"/>
<circle cx="172.9" cy="216.6" r="5.8" fill="url(#bb)" stroke="#075459" stroke-width="0.7"/>
<circle cx="232.9" cy="300.7" r="5.8" fill="url(#bb)" stroke="#075459" stroke-width="0.7"/>
<circle cx="296.3" cy="228.6" r="5.8" fill="url(#bb)" stroke="#075459" stroke-width="0.7"/>
<circle cx="186.1" cy="348.0" r="5.8" fill="url(#bb)" stroke="#075459" stroke-width="0.7"/>
<circle cx="230.7" cy="303.4" r="5.8" fill="url(#bb)" stroke="#075459" stroke-width="0.7"/>
<circle cx="144.9" cy="325.7" r="6" fill="url(#br)" stroke="#075459" stroke-width="0.7"/>
<circle cx="177.5" cy="331.7" r="6" fill="url(#br)" stroke="#075459" stroke-width="0.7"/>
<circle cx="308.3" cy="245.8" r="6" fill="url(#br)" stroke="#075459" stroke-width="0.7"/>
<circle cx="246.6" cy="252.6" r="6" fill="url(#br)" stroke="#075459" stroke-width="0.7"/>
<g stroke="#c3d92e" stroke-width="2.4" stroke-linecap="round">
<path d="M222.1,184.9 L221.4,186.6"/>
<path d="M219.7,192.1 L219.0,193.8"/>
<path d="M217.5,200.3 L216.8,202.0"/>
</g>
<path d="M471.5,146.5 C467.2,148.2 453.9,153.4 446,157 C438.1,160.6 428.6,163.5 424,168 C419.4,172.5 418.4,178.4 418.6,184 C418.9,189.6 420.9,196.3 425.5,201.5 C430.1,206.7 438.6,210.8 446,215 C453.4,219.2 463.2,222.9 470,227 C476.8,231.1 484.2,237.4 487,239.5" fill="none" stroke="#565d5f" stroke-width="15.2" stroke-linecap="round" stroke-linejoin="round"/>
<path d="M471.5,146.5 C467.2,148.2 453.9,153.4 446,157 C438.1,160.6 428.6,163.5 424,168 C419.4,172.5 418.4,178.4 418.6,184 C418.9,189.6 420.9,196.3 425.5,201.5 C430.1,206.7 438.6,210.8 446,215 C453.4,219.2 463.2,222.9 470,227 C476.8,231.1 484.2,237.4 487,239.5" fill="none" stroke="#a3adaf" stroke-width="14" stroke-linecap="round" stroke-linejoin="round"/>
<path d="M471.5,146.5 C467.2,148.2 453.9,153.4 446,157 C438.1,160.6 428.6,163.5 424,168 C419.4,172.5 418.4,178.4 418.6,184 C418.9,189.6 420.9,196.3 425.5,201.5 C430.1,206.7 438.6,210.8 446,215 C453.4,219.2 463.2,222.9 470,227 C476.8,231.1 484.2,237.4 487,239.5" fill="none" stroke="#c9d2d4" stroke-width="8.68" stroke-linecap="round" stroke-linejoin="round"/>
<path d="M471.5,146.5 C467.2,148.2 453.9,153.4 446,157 C438.1,160.6 428.6,163.5 424,168 C419.4,172.5 418.4,178.4 418.6,184 C418.9,189.6 420.9,196.3 425.5,201.5 C430.1,206.7 438.6,210.8 446,215 C453.4,219.2 463.2,222.9 470,227 C476.8,231.1 484.2,237.4 487,239.5" fill="none" stroke="#e6ebec" stroke-width="3.92" stroke-linecap="round" stroke-linejoin="round"/>
<path d="M382,237.5 C377.2,243.2 360.3,261.4 353,271.5 C345.7,281.6 341.5,289.1 338,298 C334.5,306.9 333.7,316.3 332,325 C330.3,333.7 329.8,342.2 328,350 C326.2,357.8 324.7,363.2 321,372 C317.3,380.8 312.2,392.4 306,403 C299.8,413.6 288.8,428.3 284,435.5 C279.2,442.7 278.2,444.2 277,446" fill="none" stroke="#565d5f" stroke-width="15.7" stroke-linecap="round" stroke-linejoin="round"/>
<path d="M382,237.5 C377.2,243.2 360.3,261.4 353,271.5 C345.7,281.6 341.5,289.1 338,298 C334.5,306.9 333.7,316.3 332,325 C330.3,333.7 329.8,342.2 328,350 C326.2,357.8 324.7,363.2 321,372 C317.3,380.8 312.2,392.4 306,403 C299.8,413.6 288.8,428.3 284,435.5 C279.2,442.7 278.2,444.2 277,446" fill="none" stroke="#a3adaf" stroke-width="14.5" stroke-linecap="round" stroke-linejoin="round"/>
<path d="M382,237.5 C377.2,243.2 360.3,261.4 353,271.5 C345.7,281.6 341.5,289.1 338,298 C334.5,306.9 333.7,316.3 332,325 C330.3,333.7 329.8,342.2 328,350 C326.2,357.8 324.7,363.2 321,372 C317.3,380.8 312.2,392.4 306,403 C299.8,413.6 288.8,428.3 284,435.5 C279.2,442.7 278.2,444.2 277,446" fill="none" stroke="#c9d2d4" stroke-width="8.99" stroke-linecap="round" stroke-linejoin="round"/>
<path d="M382,237.5 C377.2,243.2 360.3,261.4 353,271.5 C345.7,281.6 341.5,289.1 338,298 C334.5,306.9 333.7,316.3 332,325 C330.3,333.7 329.8,342.2 328,350 C326.2,357.8 324.7,363.2 321,372 C317.3,380.8 312.2,392.4 306,403 C299.8,413.6 288.8,428.3 284,435.5 C279.2,442.7 278.2,444.2 277,446" fill="none" stroke="#e6ebec" stroke-width="4.06" stroke-linecap="round" stroke-linejoin="round"/>
<path d="M219.8,124.5 L233.5,114.2 L245.5,127.9 L238.6,145.1 L223.2,143.4Z M223.2,143.4 L238.6,145.1 L247.2,165.7 L238.6,177.7 L223.2,177.7 L216.3,162.2Z M216.3,162.2 L200.9,161.4 M233.5,114.2 L230.1,105.6 M286.9,202 L303.2,204.6 L310.9,223.5 L303.2,238.9 L286.9,236.3 L279.2,214.9Z M303.2,204.6 L309.2,192.6 M279.2,214.9 L262.9,210.6 M335.8,280.1 L339.2,285.2" fill="none" stroke="#5a6163" stroke-width="8.2" stroke-linecap="round" stroke-linejoin="round"/>
<path d="M310.9,223.5 L328.9,228.6 M328.9,228.6 L348.6,220.9 L359.8,240.6 L347.8,257.8 L330.6,253.5Z" fill="none" stroke="#565d5f" stroke-width="8.2" stroke-linecap="round" stroke-linejoin="round"/>
<path d="M219.8,124.5 L233.5,114.2 L245.5,127.9 L238.6,145.1 L223.2,143.4Z M223.2,143.4 L238.6,145.1 L247.2,165.7 L238.6,177.7 L223.2,177.7 L216.3,162.2Z M216.3,162.2 L200.9,161.4 M233.5,114.2 L230.1,105.6 M286.9,202 L303.2,204.6 L310.9,223.5 L303.2,238.9 L286.9,236.3 L279.2,214.9Z M303.2,204.6 L309.2,192.6 M279.2,214.9 L262.9,210.6 M335.8,280.1 L339.2,285.2" fill="none" stroke="#b2bcbe" stroke-width="7" stroke-linecap="round" stroke-linejoin="round"/>
<path d="M310.9,223.5 L328.9,228.6 M328.9,228.6 L348.6,220.9 L359.8,240.6 L347.8,257.8 L330.6,253.5Z" fill="none" stroke="#a3adaf" stroke-width="7" stroke-linecap="round" stroke-linejoin="round"/>
<path d="M219.8,124.5 L233.5,114.2 L245.5,127.9 L238.6,145.1 L223.2,143.4Z M223.2,143.4 L238.6,145.1 L247.2,165.7 L238.6,177.7 L223.2,177.7 L216.3,162.2Z M216.3,162.2 L200.9,161.4 M233.5,114.2 L230.1,105.6 M286.9,202 L303.2,204.6 L310.9,223.5 L303.2,238.9 L286.9,236.3 L279.2,214.9Z M303.2,204.6 L309.2,192.6 M279.2,214.9 L262.9,210.6 M335.8,280.1 L339.2,285.2" fill="none" stroke="#d9e0e1" stroke-width="4.34" stroke-linecap="round" stroke-linejoin="round"/>
<path d="M310.9,223.5 L328.9,228.6 M328.9,228.6 L348.6,220.9 L359.8,240.6 L347.8,257.8 L330.6,253.5Z" fill="none" stroke="#c9d2d4" stroke-width="4.34" stroke-linecap="round" stroke-linejoin="round"/>
<path d="M219.8,124.5 L233.5,114.2 L245.5,127.9 L238.6,145.1 L223.2,143.4Z M223.2,143.4 L238.6,145.1 L247.2,165.7 L238.6,177.7 L223.2,177.7 L216.3,162.2Z M216.3,162.2 L200.9,161.4 M233.5,114.2 L230.1,105.6 M286.9,202 L303.2,204.6 L310.9,223.5 L303.2,238.9 L286.9,236.3 L279.2,214.9Z M303.2,204.6 L309.2,192.6 M279.2,214.9 L262.9,210.6 M335.8,280.1 L339.2,285.2" fill="none" stroke="#f2f5f5" stroke-width="1.96" stroke-linecap="round" stroke-linejoin="round"/>
<path d="M310.9,223.5 L328.9,228.6 M328.9,228.6 L348.6,220.9 L359.8,240.6 L347.8,257.8 L330.6,253.5Z" fill="none" stroke="#e6ebec" stroke-width="1.96" stroke-linecap="round" stroke-linejoin="round"/>
</g>
<path d="M342.6,383.2 L318.6,374.6" stroke="#000" stroke-width="1.1" fill="none"/>
<path d="M312.6,372.3 L325.5,372 L321.2,380.2Z" fill="#000"/>
<text x="120.3" y="84.2" textLength="32.6" lengthAdjust="spacingAndGlyphs" fill="#86822a" style="font-weight:bold;font-size:19px;" stroke="#fff" stroke-width="1.6" paint-order="stroke" stroke-linejoin="round">uL4</text>
<text x="378.2" y="70" textLength="43.8" lengthAdjust="spacingAndGlyphs" fill="#86822a" style="font-weight:bold;font-size:19px;" stroke="#fff" stroke-width="1.6" paint-order="stroke" stroke-linejoin="round">uL22</text>
<text x="340" y="112" textLength="68.8" lengthAdjust="spacingAndGlyphs" fill="#a2adad" style="font-weight:bold;font-size:18.6px;font-style:italic;" stroke="#fff" stroke-width="1.6" paint-order="stroke" stroke-linejoin="round">m<tspan dy="-5.5" font-size="11">5</tspan><tspan dy="5.5">U747</tspan></text>
<text x="336.4" y="132.2" textLength="72.4" lengthAdjust="spacingAndGlyphs" fill="#a2adad" style="font-weight:bold;font-size:16.3px;font-style:italic;" stroke="#fff" stroke-width="1.6" paint-order="stroke" stroke-linejoin="round">(m<tspan dy="-5" font-size="10">5</tspan><tspan dy="5">U792)</tspan></text>
<text x="102.4" y="168.4" textLength="57.1" lengthAdjust="spacingAndGlyphs" fill="#a2adad" style="font-weight:bold;font-size:18.6px;font-style:italic;" stroke="#fff" stroke-width="1.6" paint-order="stroke" stroke-linejoin="round">A2059</text>
<text x="99.2" y="189.5" textLength="61.7" lengthAdjust="spacingAndGlyphs" fill="#a2adad" style="font-weight:bold;font-size:16.3px;font-style:italic;" stroke="#fff" stroke-width="1.6" paint-order="stroke" stroke-linejoin="round">(A2086)</text>
<text x="253.4" y="156.2" textLength="56.6" lengthAdjust="spacingAndGlyphs" fill="#a2adad" style="font-weight:bold;font-size:18.6px;font-style:italic;" stroke="#fff" stroke-width="1.6" paint-order="stroke" stroke-linejoin="round">A2058</text>
<text x="251.7" y="174.2" textLength="60" lengthAdjust="spacingAndGlyphs" fill="#a2adad" style="font-weight:bold;font-size:16.3px;font-style:italic;" stroke="#fff" stroke-width="1.6" paint-order="stroke" stroke-linejoin="round">(A2085)</text>
<text x="334" y="184" textLength="54" lengthAdjust="spacingAndGlyphs" fill="#a2adad" style="font-weight:bold;font-size:18.6px;font-style:italic;" stroke="#fff" stroke-width="1.6" paint-order="stroke" stroke-linejoin="round">C2611</text>
<text x="333.2" y="202.9" textLength="60" lengthAdjust="spacingAndGlyphs" fill="#a2adad" style="font-weight:bold;font-size:16.3px;font-style:italic;" stroke="#fff" stroke-width="1.6" paint-order="stroke" stroke-linejoin="round">(C2638)</text>
<text x="85.2" y="270.8" textLength="56.6" lengthAdjust="spacingAndGlyphs" fill="#a2adad" style="font-weight:bold;font-size:18.6px;font-style:italic;" stroke="#fff" stroke-width="1.6" paint-order="stroke" stroke-linejoin="round">A2062</text>
<text x="80" y="288.8" textLength="60.9" lengthAdjust="spacingAndGlyphs" fill="#a2adad" style="font-weight:bold;font-size:16.3px;font-style:italic;" stroke="#fff" stroke-width="1.6" paint-order="stroke" stroke-linejoin="round">(A2089)</text>
<text x="433.2" y="299.2" textLength="44.6" lengthAdjust="spacingAndGlyphs" fill="#a2adad" style="font-weight:bold;font-size:18.6px;font-style:italic;" stroke="#fff" stroke-width="1.6" paint-order="stroke" stroke-linejoin="round">U746</text>
<text x="430.2" y="317.8" textLength="51" lengthAdjust="spacingAndGlyphs" fill="#a2adad" style="font-weight:bold;font-size:16.3px;font-style:italic;" stroke="#fff" stroke-width="1.6" paint-order="stroke" stroke-linejoin="round">(U791)</text>
<text x="226.3" y="372" textLength="55.7" lengthAdjust="spacingAndGlyphs" fill="#a2adad" style="font-weight:bold;font-size:18.6px;font-style:italic;" stroke="#fff" stroke-width="1.6" paint-order="stroke" stroke-linejoin="round">C2610</text>
<text x="231.4" y="391" textLength="60.1" lengthAdjust="spacingAndGlyphs" fill="#a2adad" style="font-weight:bold;font-size:16.3px;font-style:italic;" stroke="#fff" stroke-width="1.6" paint-order="stroke" stroke-linejoin="round">(C2637)</text>
<text x="348.6" y="390.5" textLength="56.6" lengthAdjust="spacingAndGlyphs" fill="#a2adad" style="font-weight:bold;font-size:18.6px;font-style:italic;" stroke="#fff" stroke-width="1.6" paint-order="stroke" stroke-linejoin="round">U2609</text>
<text x="344.9" y="408.5" textLength="60.3" lengthAdjust="spacingAndGlyphs" fill="#a2adad" style="font-weight:bold;font-size:16.3px;font-style:italic;" stroke="#fff" stroke-width="1.6" paint-order="stroke" stroke-linejoin="round">(U2636)</text>
<text x="121.2" y="445.4" textLength="56.6" lengthAdjust="spacingAndGlyphs" fill="#a2adad" style="font-weight:bold;font-size:18.6px;font-style:italic;" stroke="#fff" stroke-width="1.6" paint-order="stroke" stroke-linejoin="round">C2586</text>
<text x="118.3" y="464.3" textLength="60.3" lengthAdjust="spacingAndGlyphs" fill="#a2adad" style="font-weight:bold;font-size:16.3px;font-style:italic;" stroke="#fff" stroke-width="1.6" paint-order="stroke" stroke-linejoin="round">(C2613)</text>
<text x="194.4" y="445.6" textLength="56.3" lengthAdjust="spacingAndGlyphs" fill="#a2adad" style="font-weight:bold;font-size:18.6px;font-style:italic;" stroke="#fff" stroke-width="1.6" paint-order="stroke" stroke-linejoin="round">C1782</text>
<text x="193" y="464.4" textLength="60.4" lengthAdjust="spacingAndGlyphs" fill="#a2adad" style="font-weight:bold;font-size:16.3px;font-style:italic;" stroke="#fff" stroke-width="1.6" paint-order="stroke" stroke-linejoin="round">(C1809)</text>
</svg>
<svg width="1268" height="933" viewBox="0 0 1268 933">
<defs><clipPath id="cbb"><rect x="24" y="555" width="476" height="361"/></clipPath>
<radialGradient id="st" cx="0.38" cy="0.33" r="0.75"><stop offset="0" stop-color="#55d0d5"/><stop offset="0.45" stop-color="#19a0a6"/><stop offset="1" stop-color="#0e8087"/></radialGradient>
<radialGradient id="sg" cx="0.38" cy="0.33" r="0.75"><stop offset="0" stop-color="#f0f4f4"/><stop offset="0.45" stop-color="#b9c3c5"/><stop offset="1" stop-color="#8f999b"/></radialGradient>
<radialGradient id="sr" cx="0.38" cy="0.33" r="0.75"><stop offset="0" stop-color="#f59292"/><stop offset="0.45" stop-color="#d94e4e"/><stop offset="1" stop-color="#b23a3a"/></radialGradient>
<radialGradient id="sR" cx="0.38" cy="0.33" r="0.75"><stop offset="0" stop-color="#c97070"/><stop offset="0.45" stop-color="#9c3a3a"/><stop offset="1" stop-color="#7a2a2a"/></radialGradient>
<radialGradient id="sb" cx="0.38" cy="0.33" r="0.75"><stop offset="0" stop-color="#8585f7"/><stop offset="0.45" stop-color="#3a3ade"/><stop offset="1" stop-color="#2626c0"/></radialGradient>
<radialGradient id="so" cx="0.38" cy="0.33" r="0.75"><stop offset="0" stop-color="#f8b25c"/><stop offset="0.45" stop-color="#dd7c1a"/><stop offset="1" stop-color="#b5650f"/></radialGradient>
<radialGradient id="smg" cx="0.38" cy="0.33" r="0.75"><stop offset="0" stop-color="#a8e04e"/><stop offset="0.5" stop-color="#74c424"/><stop offset="1" stop-color="#4f9a10"/></radialGradient>
</defs>
<g clip-path="url(#cbb)">
<path d="M193.7,635.9 L208.3,633.3 M235.8,635 L248.6,639.3 M248.6,639.3 L244.3,647 M197.1,642.8 L193.7,635.9 M185.2,670.2 L190.3,677.1 M190.3,677.1 L210.9,678.8 M243.5,674.5 L255.5,668.5 M255.5,668.5 L247.8,661.6 M248.6,639.3 L269.2,640.2 M144.9,663.4 L163.1,664.2" fill="none" stroke="#2626c0" stroke-width="11.3" stroke-linecap="butt" stroke-linejoin="round"/>
<path d="M208.3,633.3 L222.9,630.8 M222.9,630.8 L235.8,635 M244.3,647 L240,654.8 M200.6,649.6 L197.1,642.8 M180,663.4 L185.2,670.2 M210.9,678.8 L231.5,680.5 M231.5,680.5 L243.5,674.5 M247.8,661.6 L240,654.8 M269.2,640.2 L289.8,641.1 M289.8,641.1 L295,635 M333.5,611.5 L341.2,609.3 M289.8,641.1 L291.5,646.2 M163.1,664.2 L181.2,665.1" fill="none" stroke="#8f999b" stroke-width="11.3" stroke-linecap="butt" stroke-linejoin="round"/>
<path d="M193.7,635.9 l0.01,0 M248.6,639.3 l0.01,0 M248.6,639.3 l0.01,0 M193.7,635.9 l0.01,0 M190.3,677.1 l0.01,0 M190.3,677.1 l0.01,0 M255.5,668.5 l0.01,0 M255.5,668.5 l0.01,0 M248.6,639.3 l0.01,0 M144.9,663.4 l0.01,0" fill="none" stroke="#2626c0" stroke-width="11.3" stroke-linecap="round" stroke-linejoin="round"/>
<path d="M222.9,630.8 l0.01,0 M222.9,630.8 l0.01,0 M240,654.8 l0.01,0 M240,654.8 L200.6,649.6 M200.6,649.6 l0.01,0 M200.6,649.6 L180,663.4 M180,663.4 l0.01,0 M231.5,680.5 l0.01,0 M231.5,680.5 l0.01,0 M240,654.8 l0.01,0 M289.8,641.1 l0.01,0 M289.8,641.1 l0.01,0 M341.2,609.3 l0.01,0 M289.8,641.1 l0.01,0 M181.2,665.1 l0.01,0" fill="none" stroke="#8f999b" stroke-width="11.3" stroke-linecap="round" stroke-linejoin="round"/>
<path d="M295,635 L300.1,629 M325.8,613.6 L333.5,611.5 M291.5,646.2 L293.2,651.3" fill="none" stroke="#b23a3a" stroke-width="11.3" stroke-linecap="butt" stroke-linejoin="round"/>
<path d="M300.1,629 l0.01,0 M300.1,629 L306.9,618.8 M306.9,618.8 L325.8,613.6 M325.8,613.6 l0.01,0 M293.2,651.3 l0.01,0" fill="none" stroke="#b23a3a" stroke-width="11.3" stroke-linecap="round" stroke-linejoin="round"/>
<path d="M398.3,634 L392.6,624.5 M395.3,563.6 L400,551.9 M402,557.9 L400,551.9 M379.5,638 L398.3,634 M398.3,634 L409.6,620.7 M398.3,634 L407.8,651.1 M433.8,725.5 L444,728 M459.5,731.5 L465.5,722.9 M459.5,731.5 L474.1,729.8 M458.6,753.8 L458.6,765" fill="none" stroke="#b5650f" stroke-width="12.3" stroke-linecap="butt" stroke-linejoin="round"/>
<path d="M392.6,624.5 L386.8,615 M357.6,579.9 L362.3,586.2 M362.3,586.2 L369.9,594.8 M357.6,562.7 L362.3,551.9 M371.8,574.5 L390.6,575.4 M390.6,575.4 L395.3,563.6 M419.1,599.9 L426.6,609.3 M350.8,626.5 L360.6,641.9 M360.6,641.9 L379.5,638 M409.6,620.7 L421,607.4 M407.8,651.1 L417.2,668.2 M423.5,722.9 L433.8,725.5 M465.5,722.9 L471.5,714.3 M474.1,729.8 L488.6,728 M488.6,728 L488.6,732.3 M458.6,765 L458.6,776.1 M473.2,782.9 L477.5,787.2 M444.9,821.5 L438.9,829.2 M481.8,824.9 L490.4,830.9" fill="none" stroke="#b23a3a" stroke-width="12.3" stroke-linecap="butt" stroke-linejoin="round"/>
<path d="M398.3,634 l0.01,0 M400,551.9 l0.01,0 M400,551.9 l0.01,0 M398.3,634 l0.01,0 M398.3,634 l0.01,0 M398.3,634 l0.01,0 M444,728 l0.01,0 M444,728 L459.5,731.5 M459.5,731.5 l0.01,0 M459.5,731.5 l0.01,0 M459.5,731.5 L458.6,753.8 M458.6,753.8 l0.01,0" fill="none" stroke="#b5650f" stroke-width="12.3" stroke-linecap="round" stroke-linejoin="round"/>
<path d="M386.8,615 l0.01,0 M381.2,563.9 L391.5,555.3 M362.3,586.2 l0.01,0 M362.3,586.2 l0.01,0 M362.3,551.9 l0.01,0 M390.6,575.4 l0.01,0 M390.6,575.4 l0.01,0 M426.6,609.3 l0.01,0 M360.6,641.9 l0.01,0 M360.6,641.9 l0.01,0 M421,607.4 l0.01,0 M417.2,668.2 l0.01,0 M423.5,722.9 l0.01,0 M471.5,714.3 l0.01,0 M488.6,728 l0.01,0 M488.6,728 l0.01,0 M458.6,776.1 l0.01,0 M458.6,776.1 L473.2,782.9 M473.2,782.9 l0.01,0 M438.9,829.2 l0.01,0 M438.9,829.2 L428.6,843 M490.4,830.9 l0.01,0 M490.4,830.9 L502.4,835.2" fill="none" stroke="#b23a3a" stroke-width="12.3" stroke-linecap="round" stroke-linejoin="round"/>
<path d="M377.4,603.3 L375.5,628.4 M352.9,573.5 l0.01,0 M377.4,603.3 l0.01,0 M339.5,609.3 L352.9,573.5 M352.9,573.5 l0.01,0 M352.9,573.5 l0.01,0 M377.4,603.3 L411.5,590.5 M411.5,590.5 L404,563.9 M404,563.9 l0.01,0 M411.5,590.5 l0.01,0 M340.9,611 l0.01,0 M488.6,736.6 l0.01,0 M488.6,736.6 L486.9,746.9 M486.9,746.9 L502.4,746.9 M481.8,791.5 l0.01,0 M481.8,791.5 L502.4,799.2 M481.8,791.5 L473.2,818.9 M473.2,818.9 L450.9,813.8 M450.9,813.8 l0.01,0 M473.2,818.9 l0.01,0" fill="none" stroke="#8f999b" stroke-width="12.3" stroke-linecap="round" stroke-linejoin="round"/>
<path d="M352.9,573.5 L357.6,579.9 M369.9,594.8 L377.4,603.3 M352.9,573.5 L357.6,562.7 M352.9,573.5 L371.8,574.5 M404,563.9 L402,557.9 M411.5,590.5 L419.1,599.9 M340.9,611 L350.8,626.5 M488.6,732.3 L488.6,736.6 M477.5,787.2 L481.8,791.5 M450.9,813.8 L444.9,821.5 M473.2,818.9 L481.8,824.9" fill="none" stroke="#8f999b" stroke-width="12.3" stroke-linecap="butt" stroke-linejoin="round"/>
<path d="M368.3,836.5 L375.6,840.8 M425,845.5 L436.1,842.5" fill="none" stroke="#b23a3a" stroke-width="11.5" stroke-linecap="butt" stroke-linejoin="round"/>
<path d="M375.6,840.8 L382.9,845 M413.8,848.5 L425,845.5" fill="none" stroke="#b5650f" stroke-width="11.5" stroke-linecap="butt" stroke-linejoin="round"/>
<path d="M368.3,836.5 l0.01,0 M436.1,842.5 l0.01,0" fill="none" stroke="#b23a3a" stroke-width="11.5" stroke-linecap="round" stroke-linejoin="round"/>
<path d="M382.9,845 l0.01,0 M382.9,845 L393.2,853.6 M393.2,853.6 L413.8,848.5 M413.8,848.5 l0.01,0" fill="none" stroke="#b5650f" stroke-width="11.5" stroke-linecap="round" stroke-linejoin="round"/>
<path d="M20,799.8 L61.2,811.8 M61.2,811.8 L59.5,830.7 M59.5,830.7 l0.01,0 M20,804.1 L54.3,814.4 M59.5,830.7 l0.01,0 M71.5,863.9 l0.01,0 M71.5,863.9 l0.01,0 M131.5,869.1 l0.01,0 M131.5,869.1 L122.9,889.6 M122.9,889.6 L86.9,898.2 M86.9,898.2 l0.01,0 M71.5,863.9 l0.01,0 M131.5,869.1 l0.01,0 M37.2,893.1 l0.01,0 M37.2,893.1 L20,895.6 M25.1,896.5 L20,910.2" fill="none" stroke="#8f999b" stroke-width="10.3" stroke-linecap="round" stroke-linejoin="round"/>
<path d="M59.5,830.7 L73.2,836.7 M59.5,830.7 L39.8,836.2 M61.6,859.6 L71.5,863.9 M71.5,863.9 L89.5,861.3 M119.5,864 L131.5,869.1 M86.9,898.2 L75.8,892.2 M68,875 L71.5,863.9 M131.5,869.1 L149.5,864.8 M50.9,889.7 L37.2,893.1" fill="none" stroke="#8f999b" stroke-width="10.3" stroke-linecap="butt" stroke-linejoin="round"/>
<path d="M73.2,836.7 L86.9,842.7" fill="none" stroke="#b23a3a" stroke-width="10.3" stroke-linecap="butt" stroke-linejoin="round"/>
<path d="M86.9,842.7 l0.01,0" fill="none" stroke="#b23a3a" stroke-width="10.3" stroke-linecap="round" stroke-linejoin="round"/>
<path d="M39.8,836.2 L20,841.8 M89.5,861.3 L107.5,858.8 M107.5,858.8 L119.5,864 M75.8,892.2 L64.6,886.2 M64.6,886.2 L68,875 M149.5,864.8 L167.5,860.5 M64.6,886.2 L50.9,889.7" fill="none" stroke="#2626c0" stroke-width="10.3" stroke-linecap="butt" stroke-linejoin="round"/>
<path d="M20,841.8 l0.01,0 M107.5,858.8 l0.01,0 M107.5,858.8 l0.01,0 M64.6,886.2 l0.01,0 M64.6,886.2 l0.01,0 M167.5,860.5 l0.01,0 M64.6,886.2 l0.01,0" fill="none" stroke="#2626c0" stroke-width="10.3" stroke-linecap="round" stroke-linejoin="round"/>
<path d="M169.2,794.6 L184.7,792.9 M165.7,794.6 l0.01,0 M194.9,822.1 l0.01,0 M229.2,815.2 L242.9,801.5 M266.9,787.8 l0.01,0 M266.9,787.8 l0.01,0" fill="none" stroke="#b23a3a" stroke-width="10.5" stroke-linecap="round" stroke-linejoin="round"/>
<path d="M165.7,794.6 L181.1,794.6 M194.9,815.2 L194.9,822.1 M266.9,787.8 L262.6,796 M273.4,795.5 L266.9,787.8" fill="none" stroke="#b23a3a" stroke-width="10.5" stroke-linecap="butt" stroke-linejoin="round"/>
<path d="M181.1,794.6 L196.6,794.6 M194.9,808.4 L194.9,815.2" fill="none" stroke="#b5650f" stroke-width="10.5" stroke-linecap="butt" stroke-linejoin="round"/>
<path d="M196.6,794.6 l0.01,0 M196.6,794.6 L217.2,803.2 M194.9,808.4 l0.01,0" fill="none" stroke="#b5650f" stroke-width="10.5" stroke-linecap="round" stroke-linejoin="round"/>
<path d="M262.6,796 L258.4,804.1 M279.8,803.2 L273.4,795.5" fill="none" stroke="#8f999b" stroke-width="10.5" stroke-linecap="butt" stroke-linejoin="round"/>
<path d="M258.4,804.1 l0.01,0 M279.8,803.2 l0.01,0" fill="none" stroke="#8f999b" stroke-width="10.5" stroke-linecap="round" stroke-linejoin="round"/>
<path d="M51.7,855.3 L61.6,859.6" fill="none" stroke="#7a2a2a" stroke-width="10.3" stroke-linecap="butt" stroke-linejoin="round"/>
<path d="M51.7,855.3 l0.01,0" fill="none" stroke="#7a2a2a" stroke-width="10.3" stroke-linecap="round" stroke-linejoin="round"/>
<path d="M193.7,635.9 L208.3,633.3 M235.8,635 L248.6,639.3 M248.6,639.3 L244.3,647 M197.1,642.8 L193.7,635.9 M185.2,670.2 L190.3,677.1 M190.3,677.1 L210.9,678.8 M243.5,674.5 L255.5,668.5 M255.5,668.5 L247.8,661.6 M248.6,639.3 L269.2,640.2 M144.9,663.4 L163.1,664.2" fill="none" stroke="#3a3ade" stroke-width="7.01" stroke-linecap="butt" stroke-linejoin="round"/>
<path d="M208.3,633.3 L222.9,630.8 M222.9,630.8 L235.8,635 M244.3,647 L240,654.8 M200.6,649.6 L197.1,642.8 M180,663.4 L185.2,670.2 M210.9,678.8 L231.5,680.5 M231.5,680.5 L243.5,674.5 M247.8,661.6 L240,654.8 M269.2,640.2 L289.8,641.1 M289.8,641.1 L295,635 M333.5,611.5 L341.2,609.3 M289.8,641.1 L291.5,646.2 M163.1,664.2 L181.2,665.1" fill="none" stroke="#b9c3c5" stroke-width="7.01" stroke-linecap="butt" stroke-linejoin="round"/>
<path d="M193.7,635.9 l0.01,0 M248.6,639.3 l0.01,0 M248.6,639.3 l0.01,0 M193.7,635.9 l0.01,0 M190.3,677.1 l0.01,0 M190.3,677.1 l0.01,0 M255.5,668.5 l0.01,0 M255.5,668.5 l0.01,0 M248.6,639.3 l0.01,0 M144.9,663.4 l0.01,0" fill="none" stroke="#3a3ade" stroke-width="7.01" stroke-linecap="round" stroke-linejoin="round"/>
<path d="M222.9,630.8 l0.01,0 M222.9,630.8 l0.01,0 M240,654.8 l0.01,0 M240,654.8 L200.6,649.6 M200.6,649.6 l0.01,0 M200.6,649.6 L180,663.4 M180,663.4 l0.01,0 M231.5,680.5 l0.01,0 M231.5,680.5 l0.01,0 M240,654.8 l0.01,0 M289.8,641.1 l0.01,0 M289.8,641.1 l0.01,0 M341.2,609.3 l0.01,0 M289.8,641.1 l0.01,0 M181.2,665.1 l0.01,0" fill="none" stroke="#b9c3c5" stroke-width="7.01" stroke-linecap="round" stroke-linejoin="round"/>
<path d="M295,635 L300.1,629 M325.8,613.6 L333.5,611.5 M291.5,646.2 L293.2,651.3" fill="none" stroke="#d94e4e" stroke-width="7.01" stroke-linecap="butt" stroke-linejoin="round"/>
<path d="M300.1,629 l0.01,0 M300.1,629 L306.9,618.8 M306.9,618.8 L325.8,613.6 M325.8,613.6 l0.01,0 M293.2,651.3 l0.01,0" fill="none" stroke="#d94e4e" stroke-width="7.01" stroke-linecap="round" stroke-linejoin="round"/>
<path d="M398.3,634 L392.6,624.5 M395.3,563.6 L400,551.9 M402,557.9 L400,551.9 M379.5,638 L398.3,634 M398.3,634 L409.6,620.7 M398.3,634 L407.8,651.1 M433.8,725.5 L444,728 M459.5,731.5 L465.5,722.9 M459.5,731.5 L474.1,729.8 M458.6,753.8 L458.6,765" fill="none" stroke="#dd7c1a" stroke-width="7.63" stroke-linecap="butt" stroke-linejoin="round"/>
<path d="M392.6,624.5 L386.8,615 M357.6,579.9 L362.3,586.2 M362.3,586.2 L369.9,594.8 M357.6,562.7 L362.3,551.9 M371.8,574.5 L390.6,575.4 M390.6,575.4 L395.3,563.6 M419.1,599.9 L426.6,609.3 M350.8,626.5 L360.6,641.9 M360.6,641.9 L379.5,638 M409.6,620.7 L421,607.4 M407.8,651.1 L417.2,668.2 M423.5,722.9 L433.8,725.5 M465.5,722.9 L471.5,714.3 M474.1,729.8 L488.6,728 M488.6,728 L488.6,732.3 M458.6,765 L458.6,776.1 M473.2,782.9 L477.5,787.2 M444.9,821.5 L438.9,829.2 M481.8,824.9 L490.4,830.9" fill="none" stroke="#d94e4e" stroke-width="7.63" stroke-linecap="butt" stroke-linejoin="round"/>
<path d="M398.3,634 l0.01,0 M400,551.9 l0.01,0 M400,551.9 l0.01,0 M398.3,634 l0.01,0 M398.3,634 l0.01,0 M398.3,634 l0.01,0 M444,728 l0.01,0 M444,728 L459.5,731.5 M459.5,731.5 l0.01,0 M459.5,731.5 l0.01,0 M459.5,731.5 L458.6,753.8 M458.6,753.8 l0.01,0" fill="none" stroke="#dd7c1a" stroke-width="7.63" stroke-linecap="round" stroke-linejoin="round"/>
<path d="M386.8,615 l0.01,0 M381.2,563.9 L391.5,555.3 M362.3,586.2 l0.01,0 M362.3,586.2 l0.01,0 M362.3,551.9 l0.01,0 M390.6,575.4 l0.01,0 M390.6,575.4 l0.01,0 M426.6,609.3 l0.01,0 M360.6,641.9 l0.01,0 M360.6,641.9 l0.01,0 M421,607.4 l0.01,0 M417.2,668.2 l0.01,0 M423.5,722.9 l0.01,0 M471.5,714.3 l0.01,0 M488.6,728 l0.01,0 M488.6,728 l0.01,0 M458.6,776.1 l0.01,0 M458.6,776.1 L473.2,782.9 M473.2,782.9 l0.01,0 M438.9,829.2 l0.01,0 M438.9,829.2 L428.6,843 M490.4,830.9 l0.01,0 M490.4,830.9 L502.4,835.2" fill="none" stroke="#d94e4e" stroke-width="7.63" stroke-linecap="round" stroke-linejoin="round"/>
<path d="M377.4,603.3 L375.5,628.4 M352.9,573.5 l0.01,0 M377.4,603.3 l0.01,0 M339.5,609.3 L352.9,573.5 M352.9,573.5 l0.01,0 M352.9,573.5 l0.01,0 M377.4,603.3 L411.5,590.5 M411.5,590.5 L404,563.9 M404,563.9 l0.01,0 M411.5,590.5 l0.01,0 M340.9,611 l0.01,0 M488.6,736.6 l0.01,0 M488.6,736.6 L486.9,746.9 M486.9,746.9 L502.4,746.9 M481.8,791.5 l0.01,0 M481.8,791.5 L502.4,799.2 M481.8,791.5 L473.2,818.9 M473.2,818.9 L450.9,813.8 M450.9,813.8 l0.01,0 M473.2,818.9 l0.01,0" fill="none" stroke="#b9c3c5" stroke-width="7.63" stroke-linecap="round" stroke-linejoin="round"/>
<path d="M352.9,573.5 L357.6,579.9 M369.9,594.8 L377.4,603.3 M352.9,573.5 L357.6,562.7 M352.9,573.5 L371.8,574.5 M404,563.9 L402,557.9 M411.5,590.5 L419.1,599.9 M340.9,611 L350.8,626.5 M488.6,732.3 L488.6,736.6 M477.5,787.2 L481.8,791.5 M450.9,813.8 L444.9,821.5 M473.2,818.9 L481.8,824.9" fill="none" stroke="#b9c3c5" stroke-width="7.63" stroke-linecap="butt" stroke-linejoin="round"/>
<path d="M368.3,836.5 L375.6,840.8 M425,845.5 L436.1,842.5" fill="none" stroke="#d94e4e" stroke-width="7.13" stroke-linecap="butt" stroke-linejoin="round"/>
<path d="M375.6,840.8 L382.9,845 M413.8,848.5 L425,845.5" fill="none" stroke="#dd7c1a" stroke-width="7.13" stroke-linecap="butt" stroke-linejoin="round"/>
<path d="M368.3,836.5 l0.01,0 M436.1,842.5 l0.01,0" fill="none" stroke="#d94e4e" stroke-width="7.13" stroke-linecap="round" stroke-linejoin="round"/>
<path d="M382.9,845 l0.01,0 M382.9,845 L393.2,853.6 M393.2,853.6 L413.8,848.5 M413.8,848.5 l0.01,0" fill="none" stroke="#dd7c1a" stroke-width="7.13" stroke-linecap="round" stroke-linejoin="round"/>
<path d="M20,799.8 L61.2,811.8 M61.2,811.8 L59.5,830.7 M59.5,830.7 l0.01,0 M20,804.1 L54.3,814.4 M59.5,830.7 l0.01,0 M71.5,863.9 l0.01,0 M71.5,863.9 l0.01,0 M131.5,869.1 l0.01,0 M131.5,869.1 L122.9,889.6 M122.9,889.6 L86.9,898.2 M86.9,898.2 l0.01,0 M71.5,863.9 l0.01,0 M131.5,869.1 l0.01,0 M37.2,893.1 l0.01,0 M37.2,893.1 L20,895.6 M25.1,896.5 L20,910.2" fill="none" stroke="#b9c3c5" stroke-width="6.39" stroke-linecap="round" stroke-linejoin="round"/>
<path d="M59.5,830.7 L73.2,836.7 M59.5,830.7 L39.8,836.2 M61.6,859.6 L71.5,863.9 M71.5,863.9 L89.5,861.3 M119.5,864 L131.5,869.1 M86.9,898.2 L75.8,892.2 M68,875 L71.5,863.9 M131.5,869.1 L149.5,864.8 M50.9,889.7 L37.2,893.1" fill="none" stroke="#b9c3c5" stroke-width="6.39" stroke-linecap="butt" stroke-linejoin="round"/>
<path d="M73.2,836.7 L86.9,842.7" fill="none" stroke="#d94e4e" stroke-width="6.39" stroke-linecap="butt" stroke-linejoin="round"/>
<path d="M86.9,842.7 l0.01,0" fill="none" stroke="#d94e4e" stroke-width="6.39" stroke-linecap="round" stroke-linejoin="round"/>
<path d="M39.8,836.2 L20,841.8 M89.5,861.3 L107.5,858.8 M107.5,858.8 L119.5,864 M75.8,892.2 L64.6,886.2 M64.6,886.2 L68,875 M149.5,864.8 L167.5,860.5 M64.6,886.2 L50.9,889.7" fill="none" stroke="#3a3ade" stroke-width="6.39" stroke-linecap="butt" stroke-linejoin="round"/>
<path d="M20,841.8 l0.01,0 M107.5,858.8 l0.01,0 M107.5,858.8 l0.01,0 M64.6,886.2 l0.01,0 M64.6,886.2 l0.01,0 M167.5,860.5 l0.01,0 M64.6,886.2 l0.01,0" fill="none" stroke="#3a3ade" stroke-width="6.39" stroke-linecap="round" stroke-linejoin="round"/>
<path d="M169.2,794.6 L184.7,792.9 M165.7,794.6 l0.01,0 M194.9,822.1 l0.01,0 M229.2,815.2 L242.9,801.5 M266.9,787.8 l0.01,0 M266.9,787.8 l0.01,0" fill="none" stroke="#d94e4e" stroke-width="6.51" stroke-linecap="round" stroke-linejoin="round"/>
<path d="M165.7,794.6 L181.1,794.6 M194.9,815.2 L194.9,822.1 M266.9,787.8 L262.6,796 M273.4,795.5 L266.9,787.8" fill="none" stroke="#d94e4e" stroke-width="6.51" stroke-linecap="butt" stroke-linejoin="round"/>
<path d="M181.1,794.6 L196.6,794.6 M194.9,808.4 L194.9,815.2" fill="none" stroke="#dd7c1a" stroke-width="6.51" stroke-linecap="butt" stroke-linejoin="round"/>
<path d="M196.6,794.6 l0.01,0 M196.6,794.6 L217.2,803.2 M194.9,808.4 l0.01,0" fill="none" stroke="#dd7c1a" stroke-width="6.51" stroke-linecap="round" stroke-linejoin="round"/>
<path d="M262.6,796 L258.4,804.1 M279.8,803.2 L273.4,795.5" fill="none" stroke="#b9c3c5" stroke-width="6.51" stroke-linecap="butt" stroke-linejoin="round"/>
<path d="M258.4,804.1 l0.01,0 M279.8,803.2 l0.01,0" fill="none" stroke="#b9c3c5" stroke-width="6.51" stroke-linecap="round" stroke-linejoin="round"/>
<path d="M51.7,855.3 L61.6,859.6" fill="none" stroke="#9c3a3a" stroke-width="6.39" stroke-linecap="butt" stroke-linejoin="round"/>
<path d="M51.7,855.3 l0.01,0" fill="none" stroke="#9c3a3a" stroke-width="6.39" stroke-linecap="round" stroke-linejoin="round"/>
<path d="M193.7,635.9 L208.3,633.3 M235.8,635 L248.6,639.3 M248.6,639.3 L244.3,647 M197.1,642.8 L193.7,635.9 M185.2,670.2 L190.3,677.1 M190.3,677.1 L210.9,678.8 M243.5,674.5 L255.5,668.5 M255.5,668.5 L247.8,661.6 M248.6,639.3 L269.2,640.2 M144.9,663.4 L163.1,664.2" fill="none" stroke="#5a5aee" stroke-width="3.16" stroke-linecap="butt" stroke-linejoin="round"/>
<path d="M208.3,633.3 L222.9,630.8 M222.9,630.8 L235.8,635 M244.3,647 L240,654.8 M200.6,649.6 L197.1,642.8 M180,663.4 L185.2,670.2 M210.9,678.8 L231.5,680.5 M231.5,680.5 L243.5,674.5 M247.8,661.6 L240,654.8 M269.2,640.2 L289.8,641.1 M289.8,641.1 L295,635 M333.5,611.5 L341.2,609.3 M289.8,641.1 L291.5,646.2 M163.1,664.2 L181.2,665.1" fill="none" stroke="#dbe2e3" stroke-width="3.16" stroke-linecap="butt" stroke-linejoin="round"/>
<path d="M193.7,635.9 l0.01,0 M248.6,639.3 l0.01,0 M248.6,639.3 l0.01,0 M193.7,635.9 l0.01,0 M190.3,677.1 l0.01,0 M190.3,677.1 l0.01,0 M255.5,668.5 l0.01,0 M255.5,668.5 l0.01,0 M248.6,639.3 l0.01,0 M144.9,663.4 l0.01,0" fill="none" stroke="#5a5aee" stroke-width="3.16" stroke-linecap="round" stroke-linejoin="round"/>
<path d="M222.9,630.8 l0.01,0 M222.9,630.8 l0.01,0 M240,654.8 l0.01,0 M240,654.8 L200.6,649.6 M200.6,649.6 l0.01,0 M200.6,649.6 L180,663.4 M180,663.4 l0.01,0 M231.5,680.5 l0.01,0 M231.5,680.5 l0.01,0 M240,654.8 l0.01,0 M289.8,641.1 l0.01,0 M289.8,641.1 l0.01,0 M341.2,609.3 l0.01,0 M289.8,641.1 l0.01,0 M181.2,665.1 l0.01,0" fill="none" stroke="#dbe2e3" stroke-width="3.16" stroke-linecap="round" stroke-linejoin="round"/>
<path d="M295,635 L300.1,629 M325.8,613.6 L333.5,611.5 M291.5,646.2 L293.2,651.3" fill="none" stroke="#e96a6a" stroke-width="3.16" stroke-linecap="butt" stroke-linejoin="round"/>
<path d="M300.1,629 l0.01,0 M300.1,629 L306.9,618.8 M306.9,618.8 L325.8,613.6 M325.8,613.6 l0.01,0 M293.2,651.3 l0.01,0" fill="none" stroke="#e96a6a" stroke-width="3.16" stroke-linecap="round" stroke-linejoin="round"/>
<path d="M398.3,634 L392.6,624.5 M395.3,563.6 L400,551.9 M402,557.9 L400,551.9 M379.5,638 L398.3,634 M398.3,634 L409.6,620.7 M398.3,634 L407.8,651.1 M433.8,725.5 L444,728 M459.5,731.5 L465.5,722.9 M459.5,731.5 L474.1,729.8 M458.6,753.8 L458.6,765" fill="none" stroke="#ee962f" stroke-width="3.44" stroke-linecap="butt" stroke-linejoin="round"/>
<path d="M392.6,624.5 L386.8,615 M357.6,579.9 L362.3,586.2 M362.3,586.2 L369.9,594.8 M357.6,562.7 L362.3,551.9 M371.8,574.5 L390.6,575.4 M390.6,575.4 L395.3,563.6 M419.1,599.9 L426.6,609.3 M350.8,626.5 L360.6,641.9 M360.6,641.9 L379.5,638 M409.6,620.7 L421,607.4 M407.8,651.1 L417.2,668.2 M423.5,722.9 L433.8,725.5 M465.5,722.9 L471.5,714.3 M474.1,729.8 L488.6,728 M488.6,728 L488.6,732.3 M458.6,765 L458.6,776.1 M473.2,782.9 L477.5,787.2 M444.9,821.5 L438.9,829.2 M481.8,824.9 L490.4,830.9" fill="none" stroke="#e96a6a" stroke-width="3.44" stroke-linecap="butt" stroke-linejoin="round"/>
<path d="M398.3,634 l0.01,0 M400,551.9 l0.01,0 M400,551.9 l0.01,0 M398.3,634 l0.01,0 M398.3,634 l0.01,0 M398.3,634 l0.01,0 M444,728 l0.01,0 M444,728 L459.5,731.5 M459.5,731.5 l0.01,0 M459.5,731.5 l0.01,0 M459.5,731.5 L458.6,753.8 M458.6,753.8 l0.01,0" fill="none" stroke="#ee962f" stroke-width="3.44" stroke-linecap="round" stroke-linejoin="round"/>
<path d="M386.8,615 l0.01,0 M381.2,563.9 L391.5,555.3 M362.3,586.2 l0.01,0 M362.3,586.2 l0.01,0 M362.3,551.9 l0.01,0 M390.6,575.4 l0.01,0 M390.6,575.4 l0.01,0 M426.6,609.3 l0.01,0 M360.6,641.9 l0.01,0 M360.6,641.9 l0.01,0 M421,607.4 l0.01,0 M417.2,668.2 l0.01,0 M423.5,722.9 l0.01,0 M471.5,714.3 l0.01,0 M488.6,728 l0.01,0 M488.6,728 l0.01,0 M458.6,776.1 l0.01,0 M458.6,776.1 L473.2,782.9 M473.2,782.9 l0.01,0 M438.9,829.2 l0.01,0 M438.9,829.2 L428.6,843 M490.4,830.9 l0.01,0 M490.4,830.9 L502.4,835.2" fill="none" stroke="#e96a6a" stroke-width="3.44" stroke-linecap="round" stroke-linejoin="round"/>
<path d="M377.4,603.3 L375.5,628.4 M352.9,573.5 l0.01,0 M377.4,603.3 l0.01,0 M339.5,609.3 L352.9,573.5 M352.9,573.5 l0.01,0 M352.9,573.5 l0.01,0 M377.4,603.3 L411.5,590.5 M411.5,590.5 L404,563.9 M404,563.9 l0.01,0 M411.5,590.5 l0.01,0 M340.9,611 l0.01,0 M488.6,736.6 l0.01,0 M488.6,736.6 L486.9,746.9 M486.9,746.9 L502.4,746.9 M481.8,791.5 l0.01,0 M481.8,791.5 L502.4,799.2 M481.8,791.5 L473.2,818.9 M473.2,818.9 L450.9,813.8 M450.9,813.8 l0.01,0 M473.2,818.9 l0.01,0" fill="none" stroke="#dbe2e3" stroke-width="3.44" stroke-linecap="round" stroke-linejoin="round"/>
<path d="M352.9,573.5 L357.6,579.9 M369.9,594.8 L377.4,603.3 M352.9,573.5 L357.6,562.7 M352.9,573.5 L371.8,574.5 M404,563.9 L402,557.9 M411.5,590.5 L419.1,599.9 M340.9,611 L350.8,626.5 M488.6,732.3 L488.6,736.6 M477.5,787.2 L481.8,791.5 M450.9,813.8 L444.9,821.5 M473.2,818.9 L481.8,824.9" fill="none" stroke="#dbe2e3" stroke-width="3.44" stroke-linecap="butt" stroke-linejoin="round"/>
<path d="M368.3,836.5 L375.6,840.8 M425,845.5 L436.1,842.5" fill="none" stroke="#e96a6a" stroke-width="3.22" stroke-linecap="butt" stroke-linejoin="round"/>
<path d="M375.6,840.8 L382.9,845 M413.8,848.5 L425,845.5" fill="none" stroke="#ee962f" stroke-width="3.22" stroke-linecap="butt" stroke-linejoin="round"/>
<path d="M368.3,836.5 l0.01,0 M436.1,842.5 l0.01,0" fill="none" stroke="#e96a6a" stroke-width="3.22" stroke-linecap="round" stroke-linejoin="round"/>
<path d="M382.9,845 l0.01,0 M382.9,845 L393.2,853.6 M393.2,853.6 L413.8,848.5 M413.8,848.5 l0.01,0" fill="none" stroke="#ee962f" stroke-width="3.22" stroke-linecap="round" stroke-linejoin="round"/>
<path d="M20,799.8 L61.2,811.8 M61.2,811.8 L59.5,830.7 M59.5,830.7 l0.01,0 M20,804.1 L54.3,814.4 M59.5,830.7 l0.01,0 M71.5,863.9 l0.01,0 M71.5,863.9 l0.01,0 M131.5,869.1 l0.01,0 M131.5,869.1 L122.9,889.6 M122.9,889.6 L86.9,898.2 M86.9,898.2 l0.01,0 M71.5,863.9 l0.01,0 M131.5,869.1 l0.01,0 M37.2,893.1 l0.01,0 M37.2,893.1 L20,895.6 M25.1,896.5 L20,910.2" fill="none" stroke="#dbe2e3" stroke-width="2.88" stroke-linecap="round" stroke-linejoin="round"/>
<path d="M59.5,830.7 L73.2,836.7 M59.5,830.7 L39.8,836.2 M61.6,859.6 L71.5,863.9 M71.5,863.9 L89.5,861.3 M119.5,864 L131.5,869.1 M86.9,898.2 L75.8,892.2 M68,875 L71.5,863.9 M131.5,869.1 L149.5,864.8 M50.9,889.7 L37.2,893.1" fill="none" stroke="#dbe2e3" stroke-width="2.88" stroke-linecap="butt" stroke-linejoin="round"/>
<path d="M73.2,836.7 L86.9,842.7" fill="none" stroke="#e96a6a" stroke-width="2.88" stroke-linecap="butt" stroke-linejoin="round"/>
<path d="M86.9,842.7 l0.01,0" fill="none" stroke="#e96a6a" stroke-width="2.88" stroke-linecap="round" stroke-linejoin="round"/>
<path d="M39.8,836.2 L20,841.8 M89.5,861.3 L107.5,858.8 M107.5,858.8 L119.5,864 M75.8,892.2 L64.6,886.2 M64.6,886.2 L68,875 M149.5,864.8 L167.5,860.5 M64.6,886.2 L50.9,889.7" fill="none" stroke="#5a5aee" stroke-width="2.88" stroke-linecap="butt" stroke-linejoin="round"/>
<path d="M20,841.8 l0.01,0 M107.5,858.8 l0.01,0 M107.5,858.8 l0.01,0 M64.6,886.2 l0.01,0 M64.6,886.2 l0.01,0 M167.5,860.5 l0.01,0 M64.6,886.2 l0.01,0" fill="none" stroke="#5a5aee" stroke-width="2.88" stroke-linecap="round" stroke-linejoin="round"/>
<path d="M169.2,794.6 L184.7,792.9 M165.7,794.6 l0.01,0 M194.9,822.1 l0.01,0 M229.2,815.2 L242.9,801.5 M266.9,787.8 l0.01,0 M266.9,787.8 l0.01,0" fill="none" stroke="#e96a6a" stroke-width="2.94" stroke-linecap="round" stroke-linejoin="round"/>
<path d="M165.7,794.6 L181.1,794.6 M194.9,815.2 L194.9,822.1 M266.9,787.8 L262.6,796 M273.4,795.5 L266.9,787.8" fill="none" stroke="#e96a6a" stroke-width="2.94" stroke-linecap="butt" stroke-linejoin="round"/>
<path d="M181.1,794.6 L196.6,794.6 M194.9,808.4 L194.9,815.2" fill="none" stroke="#ee962f" stroke-width="2.94" stroke-linecap="butt" stroke-linejoin="round"/>
<path d="M196.6,794.6 l0.01,0 M196.6,794.6 L217.2,803.2 M194.9,808.4 l0.01,0" fill="none" stroke="#ee962f" stroke-width="2.94" stroke-linecap="round" stroke-linejoin="round"/>
<path d="M262.6,796 L258.4,804.1 M279.8,803.2 L273.4,795.5" fill="none" stroke="#dbe2e3" stroke-width="2.94" stroke-linecap="butt" stroke-linejoin="round"/>
<path d="M258.4,804.1 l0.01,0 M279.8,803.2 l0.01,0" fill="none" stroke="#dbe2e3" stroke-width="2.94" stroke-linecap="round" stroke-linejoin="round"/>
<path d="M51.7,855.3 L61.6,859.6" fill="none" stroke="#b44e4e" stroke-width="2.88" stroke-linecap="butt" stroke-linejoin="round"/>
<path d="M51.7,855.3 l0.01,0" fill="none" stroke="#b44e4e" stroke-width="2.88" stroke-linecap="round" stroke-linejoin="round"/>
<path d="M147,822.1 L158.9,804.9 M158.9,804.9 L191.5,798.1 M191.5,798.1 l0.01,0 M215.5,816.9 l0.01,0 M215.5,816.9 l0.01,0 M147,822.1 l0.01,0 M147,822.1 l0.01,0 M215.5,816.9 l0.01,0 M258.4,804.1 l0.01,0 M258.4,804.1 L272.1,838.4 M272.1,838.4 L279.8,803.2 M270.9,839.9 l0.01,0 M270.9,839.9 L281.2,853.6 M281.2,853.6 l0.01,0" fill="none" stroke="#8f999b" stroke-width="10.5" stroke-linecap="round" stroke-linejoin="round"/>
<path d="M191.5,798.1 L201.8,802.4 M213.8,811.8 L215.5,816.9 M215.5,816.9 L197.5,822.5 M163.2,825.1 L147,822.1 M147,822.1 L131.5,824.2 M215.5,816.9 L226.7,825.5 M235.2,805.4 L258.4,804.1 M270.9,839.9 L294,838.2 M281.2,853.6 L288.9,859.6" fill="none" stroke="#8f999b" stroke-width="10.5" stroke-linecap="butt" stroke-linejoin="round"/>
<path d="M201.8,802.4 L212,806.6 M212,806.6 L213.8,811.8 M197.5,822.5 L179.5,828.1 M179.5,828.1 L163.2,825.1 M131.5,824.2 L116,826.4 M212,806.6 L235.2,805.4" fill="none" stroke="#2626c0" stroke-width="10.5" stroke-linecap="butt" stroke-linejoin="round"/>
<path d="M212,806.6 l0.01,0 M212,806.6 l0.01,0 M179.5,828.1 l0.01,0 M179.5,828.1 l0.01,0 M116,826.4 l0.01,0 M212,806.6 l0.01,0" fill="none" stroke="#2626c0" stroke-width="10.5" stroke-linecap="round" stroke-linejoin="round"/>
<path d="M226.7,825.5 L237.8,834.1 M294,838.2 L317.2,836.5 M288.9,859.6 L296.6,865.6" fill="none" stroke="#b23a3a" stroke-width="10.5" stroke-linecap="butt" stroke-linejoin="round"/>
<path d="M237.8,834.1 l0.01,0 M317.2,836.5 l0.01,0 M296.6,865.6 l0.01,0" fill="none" stroke="#b23a3a" stroke-width="10.5" stroke-linecap="round" stroke-linejoin="round"/>
<path d="M147,822.1 L158.9,804.9 M158.9,804.9 L191.5,798.1 M191.5,798.1 l0.01,0 M215.5,816.9 l0.01,0 M215.5,816.9 l0.01,0 M147,822.1 l0.01,0 M147,822.1 l0.01,0 M215.5,816.9 l0.01,0 M258.4,804.1 l0.01,0 M258.4,804.1 L272.1,838.4 M272.1,838.4 L279.8,803.2 M270.9,839.9 l0.01,0 M270.9,839.9 L281.2,853.6 M281.2,853.6 l0.01,0" fill="none" stroke="#b9c3c5" stroke-width="6.51" stroke-linecap="round" stroke-linejoin="round"/>
<path d="M191.5,798.1 L201.8,802.4 M213.8,811.8 L215.5,816.9 M215.5,816.9 L197.5,822.5 M163.2,825.1 L147,822.1 M147,822.1 L131.5,824.2 M215.5,816.9 L226.7,825.5 M235.2,805.4 L258.4,804.1 M270.9,839.9 L294,838.2 M281.2,853.6 L288.9,859.6" fill="none" stroke="#b9c3c5" stroke-width="6.51" stroke-linecap="butt" stroke-linejoin="round"/>
<path d="M201.8,802.4 L212,806.6 M212,806.6 L213.8,811.8 M197.5,822.5 L179.5,828.1 M179.5,828.1 L163.2,825.1 M131.5,824.2 L116,826.4 M212,806.6 L235.2,805.4" fill="none" stroke="#3a3ade" stroke-width="6.51" stroke-linecap="butt" stroke-linejoin="round"/>
<path d="M212,806.6 l0.01,0 M212,806.6 l0.01,0 M179.5,828.1 l0.01,0 M179.5,828.1 l0.01,0 M116,826.4 l0.01,0 M212,806.6 l0.01,0" fill="none" stroke="#3a3ade" stroke-width="6.51" stroke-linecap="round" stroke-linejoin="round"/>
<path d="M226.7,825.5 L237.8,834.1 M294,838.2 L317.2,836.5 M288.9,859.6 L296.6,865.6" fill="none" stroke="#d94e4e" stroke-width="6.51" stroke-linecap="butt" stroke-linejoin="round"/>
<path d="M237.8,834.1 l0.01,0 M317.2,836.5 l0.01,0 M296.6,865.6 l0.01,0" fill="none" stroke="#d94e4e" stroke-width="6.51" stroke-linecap="round" stroke-linejoin="round"/>
<path d="M147,822.1 L158.9,804.9 M158.9,804.9 L191.5,798.1 M191.5,798.1 l0.01,0 M215.5,816.9 l0.01,0 M215.5,816.9 l0.01,0 M147,822.1 l0.01,0 M147,822.1 l0.01,0 M215.5,816.9 l0.01,0 M258.4,804.1 l0.01,0 M258.4,804.1 L272.1,838.4 M272.1,838.4 L279.8,803.2 M270.9,839.9 l0.01,0 M270.9,839.9 L281.2,853.6 M281.2,853.6 l0.01,0" fill="none" stroke="#dbe2e3" stroke-width="2.94" stroke-linecap="round" stroke-linejoin="round"/>
<path d="M191.5,798.1 L201.8,802.4 M213.8,811.8 L215.5,816.9 M215.5,816.9 L197.5,822.5 M163.2,825.1 L147,822.1 M147,822.1 L131.5,824.2 M215.5,816.9 L226.7,825.5 M235.2,805.4 L258.4,804.1 M270.9,839.9 L294,838.2 M281.2,853.6 L288.9,859.6" fill="none" stroke="#dbe2e3" stroke-width="2.94" stroke-linecap="butt" stroke-linejoin="round"/>
<path d="M201.8,802.4 L212,806.6 M212,806.6 L213.8,811.8 M197.5,822.5 L179.5,828.1 M179.5,828.1 L163.2,825.1 M131.5,824.2 L116,826.4 M212,806.6 L235.2,805.4" fill="none" stroke="#5a5aee" stroke-width="2.94" stroke-linecap="butt" stroke-linejoin="round"/>
<path d="M212,806.6 l0.01,0 M212,806.6 l0.01,0 M179.5,828.1 l0.01,0 M179.5,828.1 l0.01,0 M116,826.4 l0.01,0 M212,806.6 l0.01,0" fill="none" stroke="#5a5aee" stroke-width="2.94" stroke-linecap="round" stroke-linejoin="round"/>
<path d="M226.7,825.5 L237.8,834.1 M294,838.2 L317.2,836.5 M288.9,859.6 L296.6,865.6" fill="none" stroke="#e96a6a" stroke-width="2.94" stroke-linecap="butt" stroke-linejoin="round"/>
<path d="M237.8,834.1 l0.01,0 M317.2,836.5 l0.01,0 M296.6,865.6 l0.01,0" fill="none" stroke="#e96a6a" stroke-width="2.94" stroke-linecap="round" stroke-linejoin="round"/>
<path d="M38,551.9 L51.7,569.9 M51.7,569.9 L30.3,593 M51.7,569.9 L93.8,564.7 M93.8,564.7 L124.6,574.2 M124.6,574.2 L155.5,574.2 M124.6,574.2 L110.9,551.9 M124.6,574.2 L131.5,551.9 M93.8,564.7 L64.6,599.9 M64.6,599.9 L20,596.5 M64.6,599.9 l0.01,0 M49.2,640.2 l0.01,0 M49.2,640.2 l0.01,0 M49.2,640.2 l0.01,0 M37.2,611.9 l0.01,0 M124.6,574.2 l0.01,0 M119.5,579.3 l0.01,0 M121.2,639.3 l0.01,0 M26.9,630.8 L28.6,671.9 M16.6,671.1 L54.3,691.7 M54.3,691.7 L86.9,698.2 M86.9,698.2 L112.6,705.8 M112.6,705.8 L146.9,717.4 M146.9,717.4 L174.4,710.6 M146.9,717.4 L138.4,735.5 M138.4,735.5 L174.4,743.2 M143.4,717.4 L174.3,709.7 M174.3,709.7 L203.5,716.6 M203.5,716.6 L210.3,732 M210.3,732 L174.3,741.5 M174.3,741.5 L143.4,732.9 M210.3,732 L244.6,743.2 M244.6,743.2 L229.2,763.8 M229.2,763.8 L198.3,768.9 M198.3,768.9 l0.01,0 M174.3,741.5 l0.01,0 M140,768.9 l0.01,0 M244.6,743.2 l0.01,0 M229.2,763.8 L260.1,775.8 M260.1,775.8 l0.01,0 M260.1,775.8 l0.01,0" fill="none" stroke="#0e8087" stroke-width="10.4" stroke-linecap="round" stroke-linejoin="round"/>
<path d="M64.6,599.9 L69.8,617 M62.1,637.2 L49.2,640.2 M49.2,640.2 L50,651.8 M49.2,640.2 L39.8,630.4 M37.2,611.9 L46.2,616.6 M124.6,574.2 L133.2,586.2 M119.5,579.3 L114.3,586.1 M118.7,632.5 L121.2,639.3 M198.3,768.9 L186.3,763.8 M174.3,750 L174.3,741.5 M157.2,763.8 L140,768.9 M244.6,743.2 L262.6,741.5 M260.1,775.8 L276.4,774.5 M260.1,775.8 L255,783.5" fill="none" stroke="#0e8087" stroke-width="10.4" stroke-linecap="butt" stroke-linejoin="round"/>
<path d="M69.8,617 L74.9,634.2 M74.9,634.2 L62.1,637.2 M186.3,763.8 L174.3,758.6 M174.3,758.6 L174.3,750 M174.3,758.6 L157.2,763.8" fill="none" stroke="#2626c0" stroke-width="10.4" stroke-linecap="butt" stroke-linejoin="round"/>
<path d="M74.9,634.2 l0.01,0 M74.9,634.2 l0.01,0 M174.3,758.6 l0.01,0 M174.3,758.6 l0.01,0 M174.3,758.6 l0.01,0" fill="none" stroke="#2626c0" stroke-width="10.4" stroke-linecap="round" stroke-linejoin="round"/>
<path d="M50,651.8 L50.9,663.4 M39.8,630.4 L30.3,620.5 M46.2,616.6 L55.2,621.3 M133.2,586.2 L141.8,598.2 M114.3,586.1 L109.2,593 M116.1,625.6 L118.7,632.5 M276.4,774.5 L292.7,773.2 M255,783.5 L249.8,791.2" fill="none" stroke="#b23a3a" stroke-width="10.4" stroke-linecap="butt" stroke-linejoin="round"/>
<path d="M50.9,663.4 l0.01,0 M30.3,620.5 l0.01,0 M30.3,620.5 L20,610.2 M55.2,621.3 l0.01,0 M141.8,598.2 l0.01,0 M109.2,593 l0.01,0 M109.2,593 L105.8,610.2 M105.8,610.2 L116.1,625.6 M116.1,625.6 l0.01,0 M26.9,641.1 L26.9,661.6 M292.7,773.2 l0.01,0 M249.8,791.2 l0.01,0" fill="none" stroke="#b23a3a" stroke-width="10.4" stroke-linecap="round" stroke-linejoin="round"/>
<path d="M262.6,741.5 L280.7,739.7" fill="none" stroke="#7a2a2a" stroke-width="10.4" stroke-linecap="butt" stroke-linejoin="round"/>
<path d="M280.7,739.7 l0.01,0" fill="none" stroke="#7a2a2a" stroke-width="10.4" stroke-linecap="round" stroke-linejoin="round"/>
<path d="M38,551.9 L51.7,569.9 M51.7,569.9 L30.3,593 M51.7,569.9 L93.8,564.7 M93.8,564.7 L124.6,574.2 M124.6,574.2 L155.5,574.2 M124.6,574.2 L110.9,551.9 M124.6,574.2 L131.5,551.9 M93.8,564.7 L64.6,599.9 M64.6,599.9 L20,596.5 M64.6,599.9 l0.01,0 M49.2,640.2 l0.01,0 M49.2,640.2 l0.01,0 M49.2,640.2 l0.01,0 M37.2,611.9 l0.01,0 M124.6,574.2 l0.01,0 M119.5,579.3 l0.01,0 M121.2,639.3 l0.01,0 M26.9,630.8 L28.6,671.9 M16.6,671.1 L54.3,691.7 M54.3,691.7 L86.9,698.2 M86.9,698.2 L112.6,705.8 M112.6,705.8 L146.9,717.4 M146.9,717.4 L174.4,710.6 M146.9,717.4 L138.4,735.5 M138.4,735.5 L174.4,743.2 M143.4,717.4 L174.3,709.7 M174.3,709.7 L203.5,716.6 M203.5,716.6 L210.3,732 M210.3,732 L174.3,741.5 M174.3,741.5 L143.4,732.9 M210.3,732 L244.6,743.2 M244.6,743.2 L229.2,763.8 M229.2,763.8 L198.3,768.9 M198.3,768.9 l0.01,0 M174.3,741.5 l0.01,0 M140,768.9 l0.01,0 M244.6,743.2 l0.01,0 M229.2,763.8 L260.1,775.8 M260.1,775.8 l0.01,0 M260.1,775.8 l0.01,0" fill="none" stroke="#19a0a6" stroke-width="6.45" stroke-linecap="round" stroke-linejoin="round"/>
<path d="M64.6,599.9 L69.8,617 M62.1,637.2 L49.2,640.2 M49.2,640.2 L50,651.8 M49.2,640.2 L39.8,630.4 M37.2,611.9 L46.2,616.6 M124.6,574.2 L133.2,586.2 M119.5,579.3 L114.3,586.1 M118.7,632.5 L121.2,639.3 M198.3,768.9 L186.3,763.8 M174.3,750 L174.3,741.5 M157.2,763.8 L140,768.9 M244.6,743.2 L262.6,741.5 M260.1,775.8 L276.4,774.5 M260.1,775.8 L255,783.5" fill="none" stroke="#19a0a6" stroke-width="6.45" stroke-linecap="butt" stroke-linejoin="round"/>
<path d="M69.8,617 L74.9,634.2 M74.9,634.2 L62.1,637.2 M186.3,763.8 L174.3,758.6 M174.3,758.6 L174.3,750 M174.3,758.6 L157.2,763.8" fill="none" stroke="#3a3ade" stroke-width="6.45" stroke-linecap="butt" stroke-linejoin="round"/>
<path d="M74.9,634.2 l0.01,0 M74.9,634.2 l0.01,0 M174.3,758.6 l0.01,0 M174.3,758.6 l0.01,0 M174.3,758.6 l0.01,0" fill="none" stroke="#3a3ade" stroke-width="6.45" stroke-linecap="round" stroke-linejoin="round"/>
<path d="M50,651.8 L50.9,663.4 M39.8,630.4 L30.3,620.5 M46.2,616.6 L55.2,621.3 M133.2,586.2 L141.8,598.2 M114.3,586.1 L109.2,593 M116.1,625.6 L118.7,632.5 M276.4,774.5 L292.7,773.2 M255,783.5 L249.8,791.2" fill="none" stroke="#d94e4e" stroke-width="6.45" stroke-linecap="butt" stroke-linejoin="round"/>
<path d="M50.9,663.4 l0.01,0 M30.3,620.5 l0.01,0 M30.3,620.5 L20,610.2 M55.2,621.3 l0.01,0 M141.8,598.2 l0.01,0 M109.2,593 l0.01,0 M109.2,593 L105.8,610.2 M105.8,610.2 L116.1,625.6 M116.1,625.6 l0.01,0 M26.9,641.1 L26.9,661.6 M292.7,773.2 l0.01,0 M249.8,791.2 l0.01,0" fill="none" stroke="#d94e4e" stroke-width="6.45" stroke-linecap="round" stroke-linejoin="round"/>
<path d="M262.6,741.5 L280.7,739.7" fill="none" stroke="#9c3a3a" stroke-width="6.45" stroke-linecap="butt" stroke-linejoin="round"/>
<path d="M280.7,739.7 l0.01,0" fill="none" stroke="#9c3a3a" stroke-width="6.45" stroke-linecap="round" stroke-linejoin="round"/>
<path d="M38,551.9 L51.7,569.9 M51.7,569.9 L30.3,593 M51.7,569.9 L93.8,564.7 M93.8,564.7 L124.6,574.2 M124.6,574.2 L155.5,574.2 M124.6,574.2 L110.9,551.9 M124.6,574.2 L131.5,551.9 M93.8,564.7 L64.6,599.9 M64.6,599.9 L20,596.5 M64.6,599.9 l0.01,0 M49.2,640.2 l0.01,0 M49.2,640.2 l0.01,0 M49.2,640.2 l0.01,0 M37.2,611.9 l0.01,0 M124.6,574.2 l0.01,0 M119.5,579.3 l0.01,0 M121.2,639.3 l0.01,0 M26.9,630.8 L28.6,671.9 M16.6,671.1 L54.3,691.7 M54.3,691.7 L86.9,698.2 M86.9,698.2 L112.6,705.8 M112.6,705.8 L146.9,717.4 M146.9,717.4 L174.4,710.6 M146.9,717.4 L138.4,735.5 M138.4,735.5 L174.4,743.2 M143.4,717.4 L174.3,709.7 M174.3,709.7 L203.5,716.6 M203.5,716.6 L210.3,732 M210.3,732 L174.3,741.5 M174.3,741.5 L143.4,732.9 M210.3,732 L244.6,743.2 M244.6,743.2 L229.2,763.8 M229.2,763.8 L198.3,768.9 M198.3,768.9 l0.01,0 M174.3,741.5 l0.01,0 M140,768.9 l0.01,0 M244.6,743.2 l0.01,0 M229.2,763.8 L260.1,775.8 M260.1,775.8 l0.01,0 M260.1,775.8 l0.01,0" fill="none" stroke="#2cb9bf" stroke-width="2.91" stroke-linecap="round" stroke-linejoin="round"/>
<path d="M64.6,599.9 L69.8,617 M62.1,637.2 L49.2,640.2 M49.2,640.2 L50,651.8 M49.2,640.2 L39.8,630.4 M37.2,611.9 L46.2,616.6 M124.6,574.2 L133.2,586.2 M119.5,579.3 L114.3,586.1 M118.7,632.5 L121.2,639.3 M198.3,768.9 L186.3,763.8 M174.3,750 L174.3,741.5 M157.2,763.8 L140,768.9 M244.6,743.2 L262.6,741.5 M260.1,775.8 L276.4,774.5 M260.1,775.8 L255,783.5" fill="none" stroke="#2cb9bf" stroke-width="2.91" stroke-linecap="butt" stroke-linejoin="round"/>
<path d="M69.8,617 L74.9,634.2 M74.9,634.2 L62.1,637.2 M186.3,763.8 L174.3,758.6 M174.3,758.6 L174.3,750 M174.3,758.6 L157.2,763.8" fill="none" stroke="#5a5aee" stroke-width="2.91" stroke-linecap="butt" stroke-linejoin="round"/>
<path d="M74.9,634.2 l0.01,0 M74.9,634.2 l0.01,0 M174.3,758.6 l0.01,0 M174.3,758.6 l0.01,0 M174.3,758.6 l0.01,0" fill="none" stroke="#5a5aee" stroke-width="2.91" stroke-linecap="round" stroke-linejoin="round"/>
<path d="M50,651.8 L50.9,663.4 M39.8,630.4 L30.3,620.5 M46.2,616.6 L55.2,621.3 M133.2,586.2 L141.8,598.2 M114.3,586.1 L109.2,593 M116.1,625.6 L118.7,632.5 M276.4,774.5 L292.7,773.2 M255,783.5 L249.8,791.2" fill="none" stroke="#e96a6a" stroke-width="2.91" stroke-linecap="butt" stroke-linejoin="round"/>
<path d="M50.9,663.4 l0.01,0 M30.3,620.5 l0.01,0 M30.3,620.5 L20,610.2 M55.2,621.3 l0.01,0 M141.8,598.2 l0.01,0 M109.2,593 l0.01,0 M109.2,593 L105.8,610.2 M105.8,610.2 L116.1,625.6 M116.1,625.6 l0.01,0 M26.9,641.1 L26.9,661.6 M292.7,773.2 l0.01,0 M249.8,791.2 l0.01,0" fill="none" stroke="#e96a6a" stroke-width="2.91" stroke-linecap="round" stroke-linejoin="round"/>
<path d="M262.6,741.5 L280.7,739.7" fill="none" stroke="#b44e4e" stroke-width="2.91" stroke-linecap="butt" stroke-linejoin="round"/>
<path d="M280.7,739.7 l0.01,0" fill="none" stroke="#b44e4e" stroke-width="2.91" stroke-linecap="round" stroke-linejoin="round"/>
<circle cx="51.7" cy="569.9" r="7.7" fill="url(#st)"/>
<circle cx="98.0" cy="564.7" r="7.7" fill="url(#st)"/>
<circle cx="155.5" cy="574.2" r="7.7" fill="url(#st)"/>
<circle cx="141.8" cy="598.2" r="7.7" fill="url(#sr)"/>
<circle cx="105.8" cy="610.2" r="7.7" fill="url(#sr)"/>
<circle cx="121.2" cy="639.3" r="7.7" fill="url(#st)"/>
<circle cx="55.2" cy="621.3" r="7.7" fill="url(#sr)"/>
<circle cx="74.9" cy="634.2" r="7.7" fill="url(#sb)"/>
<circle cx="50.9" cy="663.4" r="7.7" fill="url(#sr)"/>
<circle cx="54.3" cy="691.7" r="7.7" fill="url(#st)"/>
<circle cx="86.9" cy="698.2" r="7.7" fill="url(#st)"/>
<circle cx="112.6" cy="705.8" r="7.7" fill="url(#st)"/>
<circle cx="174.4" cy="710.6" r="7.7" fill="url(#st)"/>
<circle cx="138.4" cy="735.5" r="7.7" fill="url(#st)"/>
<circle cx="136.6" cy="769.8" r="7.7" fill="url(#st)"/>
<circle cx="174.3" cy="709.7" r="7.7" fill="url(#st)"/>
<circle cx="203.5" cy="716.6" r="7.7" fill="url(#st)"/>
<circle cx="198.3" cy="768.9" r="7.7" fill="url(#st)"/>
<circle cx="280.7" cy="739.7" r="7.7" fill="url(#sR)"/>
<circle cx="292.7" cy="773.2" r="7.7" fill="url(#sr)"/>
<circle cx="249.8" cy="791.2" r="7.7" fill="url(#sr)"/>
<circle cx="25.1" cy="658.2" r="7.7" fill="url(#sr)"/>
<circle cx="26.9" cy="596.5" r="7.7" fill="url(#st)"/>
<g stroke="#9e9e9e" stroke-width="3.0" stroke-linecap="round" fill="none"><path d="M352.1,726.8 L355.5,726"/><path d="M368.5,723 L371.7,722.2"/><path d="M384.7,718.7 L387.9,717.9"/><path d="M400.9,714.8 L404.3,714"/></g>
<g stroke="#9e9e9e" stroke-width="3.0" stroke-linecap="round" fill="none"><path d="M415.7,683.4 L415.7,686.8"/><path d="M415.7,692.9 L415.7,696.3"/></g>
<g stroke="#9e9e9e" stroke-width="3.0" stroke-linecap="round" fill="none"><path d="M424.3,711.5 L427.7,711.9"/><path d="M436.3,712.7 L439.7,713.1"/><path d="M447.5,713.9 L450.9,714.1"/><path d="M458.6,714.7 L462,714.9"/></g>
<g stroke="#9e9e9e" stroke-width="3.0" stroke-linecap="round" fill="none"><path d="M415.5,674.5 L415.5,677.9"/><path d="M415.5,684 L415.5,687.4"/><path d="M415.5,692.5 L415.5,695.9"/><path d="M415.5,702 L415.5,705.4"/></g>
<g stroke="#9e9e9e" stroke-width="3.0" stroke-linecap="round" fill="none"><path d="M363.2,789.7 L364.8,792.7"/><path d="M370.1,803.4 L371.7,806.4"/><path d="M377,817.1 L378.6,820.1"/><path d="M384.2,830.9 L385.8,833.9"/></g>
<g stroke="#9e9e9e" stroke-width="3.0" stroke-linecap="round" fill="none"><path d="M320.5,813.6 L323.5,815.2"/><path d="M332.5,819.6 L335.5,821.2"/><path d="M344.4,825.7 L347.6,827.1"/><path d="M357.3,830.9 L360.5,832.1"/></g>
<g stroke="#9e9e9e" stroke-width="3.0" stroke-linecap="round" fill="none"><path d="M312.6,819.5 L312.6,822.9"/><path d="M312.6,828.1 L312.6,831.5"/></g>
<g stroke="#9e9e9e" stroke-width="3.0" stroke-linecap="round" fill="none"><path d="M249.6,829.9 L252.8,828.7"/><path d="M264.2,824.5 L267.4,823.3"/><path d="M279.6,819.5 L282.8,818.5"/><path d="M295,814.7 L298.2,813.7"/></g>
<circle cx="324.3" cy="754.8" r="11.6" fill="url(#smg)"/>
<g stroke="#e2d926" stroke-width="4.1" stroke-linecap="round" fill="none"><path d="M292.7,744.2 L296.5,745.6"/><path d="M307.3,749.3 L311.1,750.7"/></g>
<g stroke="#e2d926" stroke-width="4.1" stroke-linecap="round" fill="none"><path d="M302.3,767.3 L305.7,765.3"/><path d="M310,763 L313.4,761"/></g>
<g stroke="#e2d926" stroke-width="4.1" stroke-linecap="round" fill="none"><path d="M320.2,772.9 L319.4,776.9"/><path d="M316.8,788 L316,792"/><path d="M314.2,800.3 L313.4,804.3"/></g>
<g stroke="#e2d926" stroke-width="4.1" stroke-linecap="round" fill="none"><path d="M332.2,728.4 L330.8,732.2"/><path d="M327.9,740.4 L326.5,744.2"/></g>
<g stroke="#e2d926" stroke-width="4.1" stroke-linecap="round" fill="none"><path d="M338,737.2 L335.8,739.8"/><path d="M332.6,743.9 L330.4,746.5"/></g>
<g stroke="#e2d926" stroke-width="4.1" stroke-linecap="round" fill="none"><path d="M333.2,761.8 L336.6,764"/><path d="M344.3,768.7 L347.7,770.9"/></g>
<g stroke="#e2d926" stroke-width="4.1" stroke-linecap="round" fill="none"><path d="M292.4,744.9 L296.4,744.9"/></g>
<circle cx="334.9" cy="717.4" r="6.8" fill="url(#sr)"/>
<circle cx="343.1" cy="729.5" r="6.8" fill="url(#sR)"/>
<circle cx="415.5" cy="710.9" r="6.6" fill="url(#sr)"/>
<circle cx="357.2" cy="777.8" r="6.8" fill="url(#sr)"/>
<circle cx="312.1" cy="809.7" r="6.8" fill="url(#sr)"/>
<circle cx="392.3" cy="848.0" r="6.2" fill="url(#sr)"/>
<g stroke="#e2d926" stroke-width="4.1" stroke-linecap="round" fill="none"><path d="M325.5,741.5 L328.9,741.5"/></g>
<g stroke="#e2d926" stroke-width="3.8" stroke-linecap="round" fill="none"><path d="M317.4,758.6 L319.9,758.6"/></g>
</g>
<text x="188.6" y="601.6" textLength="64.3" lengthAdjust="spacingAndGlyphs" fill="#a2adad" style="font-weight:bold;font-size:20.6px;font-style:italic;" stroke="#fff" stroke-width="1.4" paint-order="stroke" stroke-linejoin="round">A2062</text>
<text x="185.1" y="620.5" textLength="70.4" lengthAdjust="spacingAndGlyphs" fill="#a2adad" style="font-weight:bold;font-size:18.2px;font-style:italic;" stroke="#fff" stroke-width="1.4" paint-order="stroke" stroke-linejoin="round">(A2089)</text>
<text x="431.8" y="611.9" textLength="61.7" lengthAdjust="spacingAndGlyphs" fill="#a2adad" style="font-weight:bold;font-size:20.6px;font-style:italic;" stroke="#fff" stroke-width="1.4" paint-order="stroke" stroke-linejoin="round">C2063</text>
<text x="425.8" y="630.8" textLength="68.6" lengthAdjust="spacingAndGlyphs" fill="#a2adad" style="font-weight:bold;font-size:18.2px;font-style:italic;" stroke="#fff" stroke-width="1.4" paint-order="stroke" stroke-linejoin="round">(C2090)</text>
<text x="32" y="770.6" textLength="63.5" lengthAdjust="spacingAndGlyphs" fill="#a2adad" style="font-weight:bold;font-size:20.6px;font-style:italic;" stroke="#fff" stroke-width="1.4" paint-order="stroke" stroke-linejoin="round">U2609</text>
<text x="27.7" y="789.5" textLength="69.5" lengthAdjust="spacingAndGlyphs" fill="#a2adad" style="font-weight:bold;font-size:18.2px;font-style:italic;" stroke="#fff" stroke-width="1.4" paint-order="stroke" stroke-linejoin="round">(U2636)</text>
<text x="386.6" y="752.9" textLength="62.6" lengthAdjust="spacingAndGlyphs" fill="#a2adad" style="font-weight:bold;font-size:20.6px;font-style:italic;" stroke="#fff" stroke-width="1.4" paint-order="stroke" stroke-linejoin="round">C2442</text>
<text x="383.2" y="771.8" textLength="69.4" lengthAdjust="spacingAndGlyphs" fill="#a2adad" style="font-weight:bold;font-size:18.2px;font-style:italic;" stroke="#fff" stroke-width="1.4" paint-order="stroke" stroke-linejoin="round">(C2469)</text>
<text x="409.5" y="882.8" textLength="62.5" lengthAdjust="spacingAndGlyphs" fill="#a2adad" style="font-weight:bold;font-size:20.6px;font-style:italic;" stroke="#fff" stroke-width="1.4" paint-order="stroke" stroke-linejoin="round">C2441</text>
<text x="404.3" y="901.6" textLength="69.5" lengthAdjust="spacingAndGlyphs" fill="#a2adad" style="font-weight:bold;font-size:18.2px;font-style:italic;" stroke="#fff" stroke-width="1.4" paint-order="stroke" stroke-linejoin="round">(C2468)</text>
<text x="146" y="899.4" textLength="147.2" lengthAdjust="spacingAndGlyphs" fill="#a2adad" style="font-weight:bold;font-size:20.6px;font-style:italic;" stroke="#fff" stroke-width="1.4" paint-order="stroke" stroke-linejoin="round">C1782 - C2586</text>
<text x="147.8" y="921.4" textLength="145.4" lengthAdjust="spacingAndGlyphs" fill="#a2adad" style="font-weight:bold;font-size:18.2px;font-style:italic;" stroke="#fff" stroke-width="1.4" paint-order="stroke" stroke-linejoin="round">(C1809 - C2613)</text>
<text x="348.4" y="706.3" fill="#7fdc1e" stroke="#7fdc1e" stroke-width="0.7" style="font-weight:bold;font-size:22.6px;">Mg<tspan dy="-8.5" font-size="15">2+</tspan></text>
</svg>
<div class="pl" style="left:17.3px;top:10.5px">a</div>
<div class="pl" style="left:17.5px;top:513px">b</div>
<div class="pl" style="left:536.3px;top:10.3px">c</div>
<div class="tbl">
<svg width="1268" height="933" viewBox="0 0 1268 933"><rect x="528" y="65" width="350" height="252" fill="#ebebeb"/><rect x="528" y="417.8" width="350" height="226.8" fill="#ebebeb"/><rect x="528" y="821" width="350" height="25.2" fill="#ebebeb"/><rect x="877" y="65" width="381" height="856.8" fill="#6fdc0f"/><rect x="877" y="90.2" width="381" height="831.6" fill="#20c820"/><rect x="877" y="140.6" width="381" height="781.2" fill="#6fdc0f"/><rect x="877" y="191" width="381" height="730.8" fill="#20c820"/><rect x="877" y="216.2" width="381" height="705.6" fill="#6fdc0f"/><rect x="877" y="241.4" width="381" height="680.4" fill="#a8f345"/><rect x="877" y="317" width="381" height="604.8" fill="#20c820"/><rect x="877" y="342.2" width="381" height="579.6" fill="#6fdc0f"/><rect x="877" y="392.6" width="381" height="529.2" fill="#20c820"/><rect x="877" y="493.4" width="381" height="428.4" fill="#86e226"/><rect x="877" y="543.8" width="381" height="378" fill="#6fdc0f"/><rect x="877" y="569" width="381" height="352.8" fill="#a8f345"/><rect x="877" y="594.2" width="381" height="327.6" fill="#6fdc0f"/><rect x="877" y="619.4" width="381" height="302.4" fill="#dcfa70"/><rect x="877" y="644.6" width="381" height="277.2" fill="#20c820"/><rect x="877" y="821" width="381" height="100.8" fill="#dcfa70"/><rect x="877" y="846.2" width="381" height="75.6" fill="#f0d254"/><rect x="877" y="871.4" width="381" height="50.4" fill="#a8f345"/><rect x="877" y="896.6" width="381" height="25.2" fill="#86e226"/><rect x="954" y="65" width="304" height="856.8" fill="#6fdc0f"/><rect x="954" y="165.8" width="304" height="756" fill="#20c820"/><rect x="954" y="216.2" width="304" height="705.6" fill="#a8f345"/><rect x="954" y="241.4" width="304" height="680.4" fill="#f0ff5a"/><rect x="954" y="266.6" width="304" height="655.2" fill="#dcfa70"/><rect x="954" y="291.8" width="304" height="630" fill="#f0ff5a"/><rect x="954" y="317" width="304" height="604.8" fill="#20c820"/><rect x="954" y="342.2" width="304" height="579.6" fill="#a8f345"/><rect x="954" y="392.6" width="304" height="529.2" fill="#86e226"/><rect x="954" y="417.8" width="304" height="504" fill="#20c820"/><rect x="954" y="443" width="304" height="478.8" fill="#a8f345"/><rect x="954" y="468.2" width="304" height="453.6" fill="#86e226"/><rect x="954" y="493.4" width="304" height="428.4" fill="#a8f345"/><rect x="954" y="543.8" width="304" height="378" fill="#86e226"/><rect x="954" y="569" width="304" height="352.8" fill="#a8f345"/><rect x="954" y="594.2" width="304" height="327.6" fill="#86e226"/><rect x="954" y="619.4" width="304" height="302.4" fill="#a8f345"/><rect x="954" y="644.6" width="304" height="277.2" fill="#20c820"/><rect x="954" y="669.8" width="304" height="252" fill="#6fdc0f"/><rect x="954" y="745.4" width="304" height="176.4" fill="#86e226"/><rect x="954" y="770.6" width="304" height="151.2" fill="#6fdc0f"/><rect x="954" y="795.8" width="304" height="126" fill="#86e226"/><rect x="954" y="821" width="304" height="100.8" fill="#f0d254"/><rect x="954" y="846.2" width="304" height="75.6" fill="#f96d25"/><rect x="954" y="871.4" width="304" height="50.4" fill="#a8f345"/><rect x="954" y="896.6" width="304" height="25.2" fill="#6fdc0f"/><rect x="1029" y="65" width="229" height="856.8" fill="#86e226"/><rect x="1029" y="90.2" width="229" height="831.6" fill="#e05a50"/><rect x="1029" y="317" width="229" height="604.8" fill="#daecf3"/><rect x="1029" y="417.8" width="229" height="504" fill="#a8f345"/><rect x="1029" y="443" width="229" height="478.8" fill="#f0d254"/><rect x="1029" y="493.4" width="229" height="428.4" fill="#e05a50"/><rect x="1029" y="644.6" width="229" height="277.2" fill="#20c820"/><rect x="1029" y="669.8" width="229" height="252" fill="#f96d25"/><rect x="1029" y="695" width="229" height="226.8" fill="#ff9e18"/><rect x="1029" y="720.2" width="229" height="201.6" fill="#e05a50"/><rect x="1029" y="821" width="229" height="100.8" fill="#daecf3"/><rect x="1029" y="871.4" width="229" height="50.4" fill="#dcfa70"/><rect x="1029" y="896.6" width="229" height="25.2" fill="#daecf3"/><rect x="1106" y="65" width="152" height="856.8" fill="#6fdc0f"/><rect x="1106" y="165.8" width="152" height="756" fill="#e8623c"/><rect x="1106" y="216.2" width="152" height="705.6" fill="#e05a50"/><rect x="1106" y="241.4" width="152" height="680.4" fill="#e8623c"/><rect x="1106" y="266.6" width="152" height="655.2" fill="#e05a50"/><rect x="1106" y="317" width="152" height="604.8" fill="#20c820"/><rect x="1106" y="342.2" width="152" height="579.6" fill="#e05a50"/><rect x="1106" y="417.8" width="152" height="504" fill="#20c820"/><rect x="1106" y="443" width="152" height="478.8" fill="#a8f345"/><rect x="1106" y="468.2" width="152" height="453.6" fill="#86e226"/><rect x="1106" y="493.4" width="152" height="428.4" fill="#f0d254"/><rect x="1106" y="518.6" width="152" height="403.2" fill="#f0ff5a"/><rect x="1106" y="543.8" width="152" height="378" fill="#f0d254"/><rect x="1106" y="569" width="152" height="352.8" fill="#f0ff5a"/><rect x="1106" y="594.2" width="152" height="327.6" fill="#f0d254"/><rect x="1106" y="619.4" width="152" height="302.4" fill="#f0ff5a"/><rect x="1106" y="644.6" width="152" height="277.2" fill="#20c820"/><rect x="1106" y="720.2" width="152" height="201.6" fill="#6fdc0f"/><rect x="1106" y="821" width="152" height="100.8" fill="#ff9e18"/><rect x="1106" y="871.4" width="152" height="50.4" fill="#dcfa70"/><rect x="1106" y="896.6" width="152" height="25.2" fill="#6fdc0f"/><rect x="1182" y="65" width="76" height="856.8" fill="#a8f345"/><rect x="1182" y="90.2" width="76" height="831.6" fill="#daecf3"/><rect x="1182" y="317" width="76" height="604.8" fill="#20c820"/><rect x="1182" y="342.2" width="76" height="579.6" fill="#f96d25"/><rect x="1182" y="367.4" width="76" height="554.4" fill="#ff9e18"/><rect x="1182" y="392.6" width="76" height="529.2" fill="#a8f345"/><rect x="1182" y="417.8" width="76" height="504" fill="#daecf3"/></svg>
<div class="rule" style="top:38px"></div>
<div class="rule" style="top:63px"></div>
<div class="rule" style="top:921px"></div>
<div class="hd" style="left:528px;width:116px">Species</div>
<div class="hd" style="left:644px;width:233px">Strain description</div>
<div class="hd hb" style="left:877px;width:77px">MCX-219</div>
<div class="hd hb" style="left:954px;width:75px">MCX-190</div>
<div class="hd hb" style="left:1029px;width:77px">ERY</div>
<div class="hd hb" style="left:1106px;width:76px">TEL</div>
<div class="hd hb" style="left:1182px;width:76px">AZM</div>
<div class="sp" style="top:178.4px">S. aureus</div>
<div class="sp" style="top:354.8px">M. pneumoniae</div>
<div class="sp" style="top:518.6px">S. pyogenes</div>
<div class="sp" style="top:720.2px">S. pneumoniae</div>
<div class="sp" style="top:821px">E. faecium</div>
<div class="sp" style="top:846.2px">E. faecalis</div>
<div class="sp" style="top:871.4px">H. influenzae</div>
<div class="sp" style="top:896.6px">M.catarrhalis</div>
<div class="ds" style="top:65px">ATCC29213</div>
<div class="v" style="left:877px;top:65px;width:77px">0.12</div>
<div class="v" style="left:954px;top:65px;width:75px">0.25</div>
<div class="v" style="left:1029px;top:61px;width:77px">0.5</div>
<div class="v" style="left:1106px;top:65px;width:76px">0.25</div>
<div class="v" style="left:1182px;top:65px;width:76px">2</div>
<div class="ds" style="top:90.2px">21K194, Clinical, MSSA, <span class="bl">i-ermC</span></div>
<div class="v" style="left:877px;top:90.2px;width:77px">0.06</div>
<div class="v" style="left:954px;top:90.2px;width:75px">0.25</div>
<div class="v" style="left:1029px;top:86.2px;width:77px">&gt;256</div>
<div class="v" style="left:1106px;top:90.2px;width:76px">0.25</div>
<div class="v dash" style="left:1182px;top:86.5px;width:76px">—</div>
<div class="ds" style="top:115.4px">21X388, Clinical, MRSA, <span class="bl">i-ermA</span></div>
<div class="v" style="left:877px;top:115.4px;width:77px">0.06</div>
<div class="v" style="left:954px;top:115.4px;width:75px">0.25</div>
<div class="v" style="left:1029px;top:114.9px;width:77px">&gt;256</div>
<div class="v" style="left:1106px;top:115.4px;width:76px">0.25</div>
<div class="v dash" style="left:1182px;top:111.7px;width:76px">—</div>
<div class="ds" style="top:140.6px">PU32, Clinical, MRSA, <span class="bl">i-ermA</span></div>
<div class="v" style="left:877px;top:140.6px;width:77px">0.25</div>
<div class="v" style="left:954px;top:140.6px;width:75px">0.25</div>
<div class="v" style="left:1029px;top:140.6px;width:77px">&gt;256</div>
<div class="v" style="left:1106px;top:140.6px;width:76px">0.12</div>
<div class="v dash" style="left:1182px;top:136.9px;width:76px">—</div>
<div class="ds" style="top:165.8px">19B133, Clinical, MSSA, <span class="rd">c-MLS<sub>B</sub></span></div>
<div class="v" style="left:877px;top:165.8px;width:77px">0.25</div>
<div class="v" style="left:954px;top:165.8px;width:75px">&lt; 0.12</div>
<div class="v" style="left:1029px;top:165.8px;width:77px">&gt;256</div>
<div class="v" style="left:1106px;top:165.8px;width:76px">&gt; 64</div>
<div class="v dash" style="left:1182px;top:162.1px;width:76px">—</div>
<div class="ds" style="top:191px">19B130, Clinical, MSSA, <span class="rd">c-MLS<sub>B</sub></span></div>
<div class="v" style="left:877px;top:191px;width:77px">&lt; 0.12</div>
<div class="v" style="left:954px;top:191px;width:75px">&lt; 0.12</div>
<div class="v" style="left:1029px;top:191px;width:77px">&gt;256</div>
<div class="v" style="left:1106px;top:191px;width:76px">&gt; 64</div>
<div class="v dash" style="left:1182px;top:187.3px;width:76px">—</div>
<div class="ds" style="top:216.2px">21C174, Clinical, MSSA, <span class="rd">c-ermB</span></div>
<div class="v" style="left:877px;top:216.2px;width:77px">0.25</div>
<div class="v" style="left:954px;top:216.2px;width:75px">1</div>
<div class="v" style="left:1029px;top:216.2px;width:77px">&gt;256</div>
<div class="v" style="left:1106px;top:216.2px;width:76px">&gt;256</div>
<div class="v dash" style="left:1182px;top:212.5px;width:76px">—</div>
<div class="ds" style="top:241.4px">15B196, Clinical, MRSA, <span class="rd">c-ermB</span></div>
<div class="v" style="left:877px;top:241.4px;width:77px">1</div>
<div class="v" style="left:954px;top:241.4px;width:75px">8</div>
<div class="v" style="left:1029px;top:241.4px;width:77px">&gt;256</div>
<div class="v" style="left:1106px;top:241.4px;width:76px">128</div>
<div class="v dash" style="left:1182px;top:237.7px;width:76px">—</div>
<div class="ds" style="top:266.6px">21T141, Clinical, MRSA, <span class="rd">c-ermB</span></div>
<div class="v" style="left:877px;top:266.6px;width:77px">1</div>
<div class="v" style="left:954px;top:266.6px;width:75px">4</div>
<div class="v" style="left:1029px;top:266.6px;width:77px">&gt;256</div>
<div class="v" style="left:1106px;top:266.6px;width:76px">&gt;256</div>
<div class="v dash" style="left:1182px;top:262.9px;width:76px">—</div>
<div class="ds" style="top:291.8px">21F198, Clinical, MRSA, <span class="rd">c-ermB</span></div>
<div class="v" style="left:877px;top:291.8px;width:77px">1</div>
<div class="v" style="left:954px;top:291.8px;width:75px">8</div>
<div class="v" style="left:1029px;top:291.8px;width:77px">&gt;256</div>
<div class="v" style="left:1106px;top:291.8px;width:76px">&gt;256</div>
<div class="v dash" style="left:1182px;top:288.1px;width:76px">—</div>
<div class="ds" style="top:317px">ATCC29342</div>
<div class="v" style="left:877px;top:317px;width:77px">0.008</div>
<div class="v" style="left:954px;top:317px;width:75px">0.016</div>
<div class="v dash" style="left:1029px;top:313.4px;width:77px">—</div>
<div class="v" style="left:1106px;top:317px;width:76px">0.008</div>
<div class="v" style="left:1182px;top:317px;width:76px">0.008</div>
<div class="ds" style="top:342.2px">Clinical, A2058G</div>
<div class="v" style="left:877px;top:342.2px;width:77px">0.25</div>
<div class="v" style="left:954px;top:342.2px;width:75px">1</div>
<div class="v dash" style="left:1029px;top:338.8px;width:77px">—</div>
<div class="v" style="left:1106px;top:342.2px;width:76px">256</div>
<div class="v" style="left:1182px;top:342.2px;width:76px">64</div>
<div class="ds" style="top:367.4px">Clinical, A2059G</div>
<div class="v" style="left:877px;top:367.4px;width:77px">0.25</div>
<div class="v" style="left:954px;top:367.4px;width:75px">2</div>
<div class="v dash" style="left:1029px;top:364.2px;width:77px">—</div>
<div class="v" style="left:1106px;top:367.4px;width:76px">256</div>
<div class="v" style="left:1182px;top:367.4px;width:76px">32</div>
<div class="ds" style="top:392.6px">Clinical, A2058T</div>
<div class="v" style="left:877px;top:392.6px;width:77px">0.06</div>
<div class="v" style="left:954px;top:392.6px;width:75px">0.5</div>
<div class="v dash" style="left:1029px;top:389.6px;width:77px">—</div>
<div class="v" style="left:1106px;top:392.6px;width:76px">256</div>
<div class="v" style="left:1182px;top:392.6px;width:76px">1</div>
<div class="ds" style="top:417.8px">01-968, Clinical, <span class="bl">i-ermB</span></div>
<div class="v" style="left:877px;top:417.8px;width:77px">≤0.002</div>
<div class="v" style="left:954px;top:417.8px;width:75px">0.03</div>
<div class="v" style="left:1029px;top:417.8px;width:77px">1</div>
<div class="v" style="left:1106px;top:417.8px;width:76px">0.016</div>
<div class="v dash" style="left:1182px;top:417.8px;width:76px">—</div>
<div class="ds" style="top:443px">21K003, Clinical, <span class="pu">mef</span></div>
<div class="v" style="left:877px;top:443px;width:77px">0.06</div>
<div class="v" style="left:954px;top:443px;width:75px">1</div>
<div class="v" style="left:1029px;top:443px;width:77px">16</div>
<div class="v" style="left:1106px;top:443px;width:76px">1</div>
<div class="v dash" style="left:1182px;top:443px;width:76px">—</div>
<div class="ds" style="top:468.2px">12-207, Clinical, <span class="pu">mef</span></div>
<div class="v" style="left:877px;top:468.2px;width:77px">0.016</div>
<div class="v" style="left:954px;top:468.2px;width:75px">0.5</div>
<div class="v" style="left:1029px;top:468.2px;width:77px">16</div>
<div class="v" style="left:1106px;top:468.2px;width:76px">0.5</div>
<div class="v dash" style="left:1182px;top:468.2px;width:76px">—</div>
<div class="ds" style="top:493.4px">21C303, Clinical, <span class="rd">c-ermB</span></div>
<div class="v" style="left:877px;top:493.4px;width:77px">0.5</div>
<div class="v" style="left:954px;top:493.4px;width:75px">1</div>
<div class="v" style="left:1029px;top:493.4px;width:77px">&gt; 256</div>
<div class="v" style="left:1106px;top:493.4px;width:76px">16</div>
<div class="v dash" style="left:1182px;top:493.4px;width:76px">—</div>
<div class="ds" style="top:518.6px">21D184, Clinical, <span class="rd">c-ermB</span></div>
<div class="v" style="left:877px;top:518.6px;width:77px">0.5</div>
<div class="v" style="left:954px;top:518.6px;width:75px">1</div>
<div class="v" style="left:1029px;top:518.6px;width:77px">&gt; 256</div>
<div class="v" style="left:1106px;top:518.6px;width:76px">8</div>
<div class="v dash" style="left:1182px;top:518.6px;width:76px">—</div>
<div class="ds" style="top:543.8px">21M063, Clinical, <span class="rd">c-ermB</span></div>
<div class="v" style="left:877px;top:543.8px;width:77px">0.25</div>
<div class="v" style="left:954px;top:543.8px;width:75px">0.5</div>
<div class="v" style="left:1029px;top:543.8px;width:77px">&gt; 256</div>
<div class="v" style="left:1106px;top:543.8px;width:76px">16</div>
<div class="v dash" style="left:1182px;top:543.8px;width:76px">—</div>
<div class="ds" style="top:569px">21D199, Clinical, <span class="rd">c-ermB</span></div>
<div class="v" style="left:877px;top:569px;width:77px">1</div>
<div class="v" style="left:954px;top:569px;width:75px">1</div>
<div class="v" style="left:1029px;top:569px;width:77px">&gt; 256</div>
<div class="v" style="left:1106px;top:569px;width:76px">8</div>
<div class="v dash" style="left:1182px;top:569px;width:76px">—</div>
<div class="ds" style="top:594.2px">21D200, Clinical, <span class="rd">c-ermB</span></div>
<div class="v" style="left:877px;top:594.2px;width:77px">0.25</div>
<div class="v" style="left:954px;top:594.2px;width:75px">0.5</div>
<div class="v" style="left:1029px;top:594.2px;width:77px">&gt; 256</div>
<div class="v" style="left:1106px;top:594.2px;width:76px">16</div>
<div class="v dash" style="left:1182px;top:594.2px;width:76px">—</div>
<div class="ds" style="top:619.4px">21W186, Clinical, <span class="rd">c-ermTR</span></div>
<div class="v" style="left:877px;top:619.4px;width:77px">4</div>
<div class="v" style="left:954px;top:619.4px;width:75px">2</div>
<div class="v" style="left:1029px;top:619.4px;width:77px">&gt; 256</div>
<div class="v" style="left:1106px;top:619.4px;width:76px">8</div>
<div class="v dash" style="left:1182px;top:619.4px;width:76px">—</div>
<div class="ds" style="top:644.6px">ATCC49619</div>
<div class="v" style="left:877px;top:644.6px;width:77px">≤0.002</div>
<div class="v" style="left:954px;top:644.6px;width:75px">0.016</div>
<div class="v" style="left:1029px;top:644.6px;width:77px">0.03</div>
<div class="v" style="left:1106px;top:644.6px;width:76px">0.008</div>
<div class="v dash" style="left:1182px;top:644.6px;width:76px">—</div>
<div class="ds" style="top:669.8px">21Q352, Clinical, <span class="bl">i-MLS<sub>B</sub></span></div>
<div class="v" style="left:877px;top:669.8px;width:77px">≤0.002</div>
<div class="v" style="left:954px;top:669.8px;width:75px">0.25</div>
<div class="v" style="left:1029px;top:669.8px;width:77px">64</div>
<div class="v" style="left:1106px;top:669.8px;width:76px">0.06</div>
<div class="v dash" style="left:1182px;top:669.8px;width:76px">—</div>
<div class="ds" style="top:695px">21Q353, Clinical, <span class="bl">i-MLS<sub>B</sub></span></div>
<div class="v" style="left:877px;top:695px;width:77px">≤0.002</div>
<div class="v" style="left:954px;top:695px;width:75px">0.25</div>
<div class="v" style="left:1029px;top:695px;width:77px">32</div>
<div class="v" style="left:1106px;top:695px;width:76px">0.03</div>
<div class="v dash" style="left:1182px;top:695px;width:76px">—</div>
<div class="ds" style="top:720.2px">21C315, Clinical, <span class="rd">c-ermB</span></div>
<div class="v" style="left:877px;top:720.2px;width:77px">0.016</div>
<div class="v" style="left:954px;top:720.2px;width:75px">0.12</div>
<div class="v" style="left:1029px;top:720.2px;width:77px">&gt; 256</div>
<div class="v" style="left:1106px;top:720.2px;width:76px">0.12</div>
<div class="v dash" style="left:1182px;top:720.2px;width:76px">—</div>
<div class="ds" style="top:745.4px">21W257, Clinical, <span class="rd">c-ermB</span>, <span class="pu">mef</span></div>
<div class="v" style="left:877px;top:745.4px;width:77px">0.016</div>
<div class="v" style="left:954px;top:745.4px;width:75px">0.5</div>
<div class="v" style="left:1029px;top:745.4px;width:77px">&gt; 256</div>
<div class="v" style="left:1106px;top:745.4px;width:76px">0.12</div>
<div class="v dash" style="left:1182px;top:745.4px;width:76px">—</div>
<div class="ds" style="top:770.6px">21D020, Clinical, <span class="rd">c-ermB</span>, <span class="pu">mef</span></div>
<div class="v" style="left:877px;top:770.6px;width:77px">0.03</div>
<div class="v" style="left:954px;top:770.6px;width:75px">0.25</div>
<div class="v" style="left:1029px;top:770.6px;width:77px">&gt; 256</div>
<div class="v" style="left:1106px;top:770.6px;width:76px">0.25</div>
<div class="v dash" style="left:1182px;top:770.6px;width:76px">—</div>
<div class="ds" style="top:795.8px">21D016, Clinical, <span class="rd">c-ermB</span>, <span class="pu">mef</span></div>
<div class="v" style="left:877px;top:795.8px;width:77px">0.03</div>
<div class="v" style="left:954px;top:795.8px;width:75px">0.5</div>
<div class="v" style="left:1029px;top:795.8px;width:77px">&gt; 256</div>
<div class="v" style="left:1106px;top:795.8px;width:76px">0.25</div>
<div class="v dash" style="left:1182px;top:795.8px;width:76px">—</div>
<div class="ds" style="top:821px">ATCC700221, VRE, vanA</div>
<div class="v" style="left:877px;top:821px;width:77px">4</div>
<div class="v" style="left:954px;top:821px;width:75px">16</div>
<div class="v dash" style="left:1029px;top:817.8px;width:77px">—</div>
<div class="v" style="left:1106px;top:821px;width:76px">32</div>
<div class="v dash" style="left:1182px;top:821px;width:76px">—</div>
<div class="ds" style="top:846.2px">ATCC51299, VRE, vanB</div>
<div class="v" style="left:877px;top:846.2px;width:77px">16</div>
<div class="v" style="left:954px;top:846.2px;width:75px">64</div>
<div class="v dash" style="left:1029px;top:843.4px;width:77px">—</div>
<div class="v" style="left:1106px;top:846.2px;width:76px">32</div>
<div class="v dash" style="left:1182px;top:846.2px;width:76px">—</div>
<div class="ds" style="top:871.4px">ATCC49247</div>
<div class="v" style="left:877px;top:871.4px;width:77px">2</div>
<div class="v" style="left:954px;top:871.4px;width:75px">1</div>
<div class="v" style="left:1029px;top:868.4px;width:77px">4</div>
<div class="v" style="left:1106px;top:871.4px;width:76px">4</div>
<div class="v dash" style="left:1182px;top:871.4px;width:76px">—</div>
<div class="ds" style="top:896.6px">13L332, Clinical</div>
<div class="v" style="left:877px;top:896.6px;width:77px">0.5</div>
<div class="v" style="left:954px;top:896.6px;width:75px">0.25</div>
<div class="v dash" style="left:1029px;top:893px;width:77px">—</div>
<div class="v" style="left:1106px;top:896.6px;width:76px">0.25</div>
<div class="v dash" style="left:1182px;top:896.6px;width:76px">—</div>
</div>
</body></html>
